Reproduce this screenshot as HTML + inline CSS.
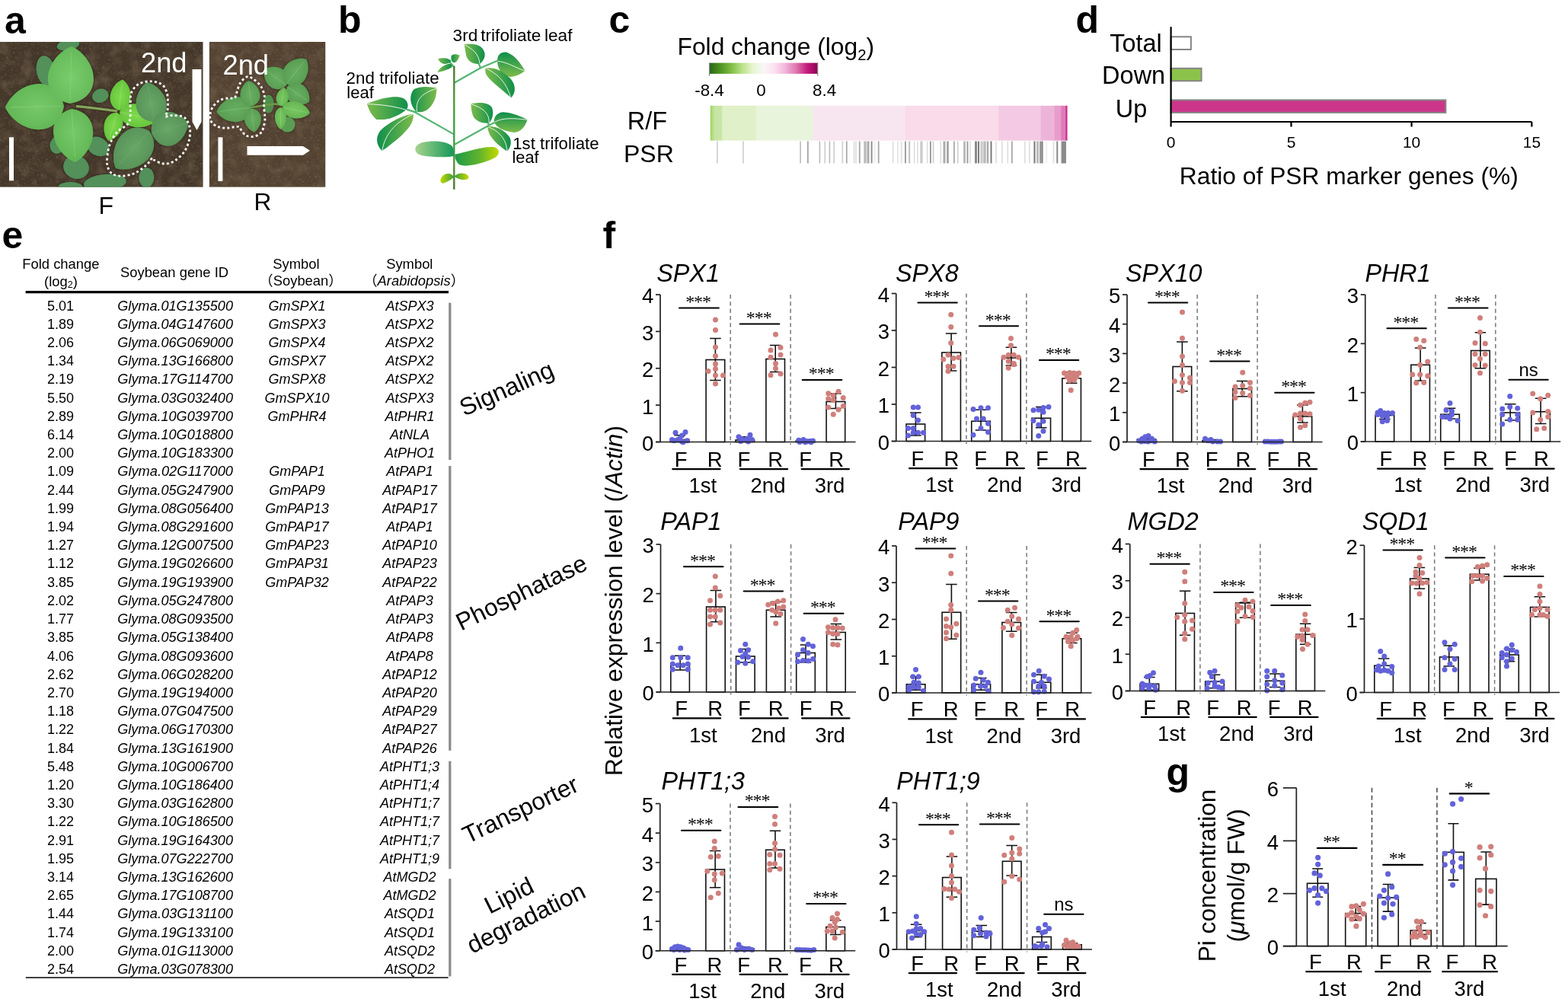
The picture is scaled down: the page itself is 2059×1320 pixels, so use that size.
<!DOCTYPE html>
<html><head><meta charset="utf-8"><style>
html,body{margin:0;padding:0;background:#fff;}
svg{display:block;}
text{font-family:"Liberation Sans", Arial, sans-serif; fill:#000;}
.cjk{font-family:"Liberation Sans","Noto Sans CJK JP",sans-serif;}
.st{font-family:"Liberation Serif", serif; font-size:24px; letter-spacing:-1.1px;}
</style></head><body>
<svg width="2059" height="1320" viewBox="0 0 2059 1320">
<rect width="2059" height="1320" fill="#fff"/>
<text x="6" y="43.5" font-size="50" font-weight="bold">a</text>
<text x="444" y="42.5" font-size="50" font-weight="bold">b</text>
<text x="799.5" y="43.2" font-size="50" font-weight="bold">c</text>
<text x="1412.5" y="43.2" font-size="50" font-weight="bold">d</text>
<text x="2.5" y="325.9" font-size="50" font-weight="bold">e</text>
<text x="791.5" y="326" font-size="50" font-weight="bold">f</text>
<text x="1531.5" y="1030.5" font-size="50" font-weight="bold">g</text>
<text x="889.5" y="71.7" font-size="31.4" textLength="258.5" lengthAdjust="spacingAndGlyphs">Fold change (log<tspan font-size="20" dy="7">2</tspan><tspan dy="-7">)</tspan></text>
<defs><linearGradient id="piyg" x1="0" x2="1" y1="0" y2="0">
<stop offset="0" stop-color="#276419"/><stop offset="0.1" stop-color="#4d9221"/><stop offset="0.2" stop-color="#7fbc41"/>
<stop offset="0.3" stop-color="#b8e186"/><stop offset="0.4" stop-color="#e6f5d0"/><stop offset="0.5" stop-color="#f7f7f7"/>
<stop offset="0.6" stop-color="#fde0ef"/><stop offset="0.7" stop-color="#f1b6da"/><stop offset="0.8" stop-color="#de77ae"/>
<stop offset="0.9" stop-color="#c51b7d"/><stop offset="1" stop-color="#8e0152"/></linearGradient>
<linearGradient id="hmstart" x1="0" x2="1" y1="0" y2="0"><stop offset="0" stop-color="#9ed35f"/><stop offset="0.35" stop-color="#c4e4a0"/><stop offset="1" stop-color="#c9e7a8"/></linearGradient>
</defs>
<rect x="931.2" y="82.6" width="142.8" height="14.3" fill="url(#piyg)"/>
<path d="M931.5,82.6V99.7M1073.7,82.6V99.7" stroke="#888" stroke-width="1.2"/>
<text x="931.5" y="125.6" font-size="22.4" text-anchor="middle">-8.4</text>
<text x="999.6" y="125.6" font-size="22.4" text-anchor="middle">0</text>
<text x="1082.6" y="125.6" font-size="22.4" text-anchor="middle">8.4</text>
<text x="823.8" y="170.4" font-size="32.4">R/F</text>
<text x="819" y="212.8" font-size="32">PSR</text>
<rect x="932.7" y="138.8" width="16.1" height="45.8" fill="url(#hmstart)"/>
<rect x="948.5" y="138.8" width="44.7" height="45.8" fill="#e0f0c8"/>
<rect x="992.9" y="138.8" width="74.9" height="45.8" fill="#e9f4dc"/>
<rect x="1067.5" y="138.8" width="121.3" height="45.8" fill="#f7e5ef"/>
<rect x="1188.5" y="138.8" width="123" height="45.8" fill="#f9dbea"/>
<rect x="1311.2" y="138.8" width="55.5" height="45.8" fill="#f4c9e4"/>
<rect x="1366.4" y="138.8" width="18.5" height="45.8" fill="#edb4da"/>
<rect x="1384.6" y="138.8" width="8.8" height="45.8" fill="#e89dcc"/>
<rect x="1393.1" y="138.8" width="6.4" height="45.8" fill="#e07bb9"/>
<rect x="1399.2" y="138.8" width="2.4" height="45.8" fill="#c8308c"/>
<filter id="psrblur" x="-0.01" y="-0.1" width="1.02" height="1.2"><feGaussianBlur stdDeviation="0.55,0.3"/></filter>
<g filter="url(#psrblur)">
<rect x="941.1" y="185.5" width="1.6" height="29" fill="#ccc"/>
<rect x="975.1" y="185.5" width="1.6" height="29" fill="#ccc"/>
<rect x="1050.3" y="185.5" width="1.6" height="29" fill="#bbb"/>
<rect x="1059.8" y="185.5" width="2" height="29" fill="#aaa"/>
<rect x="1075.6" y="185.5" width="1.6" height="29" fill="#bbb"/>
<rect x="1082.5" y="185.5" width="1.6" height="29" fill="#ccc"/>
<rect x="1088.6" y="185.5" width="1.6" height="29" fill="#bbb"/>
<rect x="1094.4" y="185.5" width="1.6" height="29" fill="#ccc"/>
<rect x="1105.6" y="185.5" width="1.6" height="29" fill="#ccc"/>
<rect x="1110.9" y="185.5" width="1.8" height="29" fill="#aaa"/>
<rect x="1120.7" y="185.5" width="1.6" height="29" fill="#ddd"/>
<rect x="1123.2" y="185.5" width="1.6" height="29" fill="#ddd"/>
<rect x="1127.85" y="185.5" width="1.9" height="29" fill="#aaa"/>
<rect x="1134.3" y="185.5" width="3.4" height="29" fill="#bbb"/>
<rect x="1138.55" y="185.5" width="2.9" height="29" fill="#aaa"/>
<rect x="1143.7" y="185.5" width="1.8" height="29" fill="#888"/>
<rect x="1148.1" y="185.5" width="1.6" height="29" fill="#eee"/>
<rect x="1152.8" y="185.5" width="1.8" height="29" fill="#aaa"/>
<rect x="1171.9" y="185.5" width="1.6" height="29" fill="#ddd"/>
<rect x="1178" y="185.5" width="1.6" height="29" fill="#e3e3e3"/>
<rect x="1182.9" y="185.5" width="1.6" height="29" fill="#ddd"/>
<rect x="1188" y="185.5" width="1.8" height="29" fill="#999"/>
<rect x="1193.3" y="185.5" width="1.8" height="29" fill="#bbb"/>
<rect x="1199.9" y="185.5" width="1.6" height="29" fill="#ddd"/>
<rect x="1204.1" y="185.5" width="1.6" height="29" fill="#ddd"/>
<rect x="1208.3" y="185.5" width="3.4" height="29" fill="#ccc"/>
<rect x="1216.9" y="185.5" width="1.6" height="29" fill="#ddd"/>
<rect x="1220.95" y="185.5" width="1.9" height="29" fill="#999"/>
<rect x="1224.8" y="185.5" width="1.6" height="29" fill="#ccc"/>
<rect x="1234.5" y="185.5" width="1.6" height="29" fill="#ddd"/>
<rect x="1238.55" y="185.5" width="2.9" height="29" fill="#aaa"/>
<rect x="1243.3" y="185.5" width="2.4" height="29" fill="#999"/>
<rect x="1252" y="185.5" width="1.8" height="29" fill="#aaa"/>
<rect x="1256.9" y="185.5" width="1.6" height="29" fill="#ccc"/>
<rect x="1265.05" y="185.5" width="2.9" height="29" fill="#bbb"/>
<rect x="1269.6" y="185.5" width="1.8" height="29" fill="#999"/>
<rect x="1273.2" y="185.5" width="1.6" height="29" fill="#ddd"/>
<rect x="1280.05" y="185.5" width="2.9" height="29" fill="#888"/>
<rect x="1284.05" y="185.5" width="1.9" height="29" fill="#777"/>
<rect x="1287.3" y="185.5" width="3.4" height="29" fill="#ccc"/>
<rect x="1291.3" y="185.5" width="3.4" height="29" fill="#bbb"/>
<rect x="1295.8" y="185.5" width="2.4" height="29" fill="#aaa"/>
<rect x="1300.55" y="185.5" width="1.9" height="29" fill="#777"/>
<rect x="1307.2" y="185.5" width="1.6" height="29" fill="#ddd"/>
<rect x="1315.2" y="185.5" width="1.6" height="29" fill="#ddd"/>
<rect x="1322.5" y="185.5" width="1.6" height="29" fill="#ddd"/>
<rect x="1327.85" y="185.5" width="1.9" height="29" fill="#aaa"/>
<rect x="1345" y="185.5" width="1.6" height="29" fill="#ddd"/>
<rect x="1351" y="185.5" width="1.6" height="29" fill="#ddd"/>
<rect x="1357.5" y="185.5" width="2" height="29" fill="#777"/>
<rect x="1361.05" y="185.5" width="2.9" height="29" fill="#bbb"/>
<rect x="1365.05" y="185.5" width="2.9" height="29" fill="#999"/>
<rect x="1367.9" y="185.5" width="1.8" height="29" fill="#888"/>
<rect x="1373.4" y="185.5" width="1.8" height="29" fill="#eee"/>
<rect x="1382.6" y="185.5" width="1.6" height="29" fill="#ddd"/>
<rect x="1387.3" y="185.5" width="2" height="29" fill="#888"/>
<rect x="1392.9" y="185.5" width="1.6" height="29" fill="#ccc"/>
<rect x="1394.05" y="185.5" width="5.9" height="29" fill="#8a8a8a"/>
</g>
<text x="1525.8" y="68.4" font-size="32.5" text-anchor="end">Total</text>
<text x="1530.2" y="110.4" font-size="32.5" text-anchor="end">Down</text>
<text x="1506.3" y="154.3" font-size="32.5" text-anchor="end">Up</text>
<rect x="1537.6" y="48.3" width="26.3" height="16.7" fill="#fff" stroke="#858585" stroke-width="2"/>
<rect x="1537.6" y="89.8" width="40" height="16.5" fill="#8bc34a" stroke="#858585" stroke-width="2"/>
<rect x="1537.6" y="131.4" width="360.8" height="16.5" fill="#cc368a" stroke="#858585" stroke-width="2"/>
<path d="M1537.6,35.2V160M1537.6,160H2011.4M1537.6,160V166.5M1695.5,160V166.5M1853.6,160V166.5M2011.4,160V166.5" stroke="#000" stroke-width="2.2" fill="none"/>
<text x="1537.6" y="194.3" font-size="21" text-anchor="middle">0</text>
<text x="1695.5" y="194.3" font-size="21" text-anchor="middle">5</text>
<text x="1853.6" y="194.3" font-size="21" text-anchor="middle">10</text>
<text x="2011.4" y="194.3" font-size="21" text-anchor="middle">15</text>
<text x="1548.8" y="241.5" font-size="32" textLength="445" lengthAdjust="spacingAndGlyphs">Ratio of PSR marker genes (%)</text>
<line x1="33.6" y1="383.7" x2="589" y2="383.7" stroke="#000" stroke-width="3.2"/>
<line x1="33.8" y1="1284" x2="588.6" y2="1284" stroke="#000" stroke-width="1.4"/>
<rect x="589.2" y="397.7" width="3.2" height="206.3" fill="#8a8a8a"/>
<rect x="589.2" y="612" width="3.2" height="373.8" fill="#8a8a8a"/>
<rect x="589.2" y="999.7" width="3.2" height="141.6" fill="#8a8a8a"/>
<rect x="589.2" y="1154.2" width="3.2" height="128.2" fill="#8a8a8a"/>
<text x="79.9" y="353.2" font-size="18.4" text-anchor="middle">Fold change</text>
<text x="79.9" y="375.9" font-size="18.4" text-anchor="middle">(log<tspan font-size="12.5" dy="2">2</tspan><tspan dy="-2">)</tspan></text>
<text x="229" y="363.6" font-size="18.4" text-anchor="middle">Soybean gene ID</text>
<text x="389" y="353" font-size="18.4" text-anchor="middle">Symbol</text>
<text x="395" y="374.7" font-size="18.4" text-anchor="middle" class="cjk">（Soybean）</text>
<text x="537.8" y="353" font-size="18.4" text-anchor="middle">Symbol</text>
<text x="543.6" y="374.7" font-size="18.4" text-anchor="middle" class="cjk">（<tspan font-style="italic" font-family="'Liberation Sans', Arial, sans-serif">Arabidopsis</tspan>）</text>
<g font-size="18">
<text x="79.6" y="407.6" text-anchor="middle">5.01</text>
<text x="154.2" y="407.6" font-style="italic" textLength="151.8" lengthAdjust="spacingAndGlyphs">Glyma.01G135500</text>
<text x="390" y="407.6" text-anchor="middle" font-style="italic">GmSPX1</text>
<text x="538" y="407.6" text-anchor="middle" font-style="italic">AtSPX3</text>
<text x="79.6" y="431.81" text-anchor="middle">1.89</text>
<text x="154.2" y="431.81" font-style="italic" textLength="151.8" lengthAdjust="spacingAndGlyphs">Glyma.04G147600</text>
<text x="390" y="431.81" text-anchor="middle" font-style="italic">GmSPX3</text>
<text x="538" y="431.81" text-anchor="middle" font-style="italic">AtSPX2</text>
<text x="79.6" y="456.01" text-anchor="middle">2.06</text>
<text x="154.2" y="456.01" font-style="italic" textLength="151.8" lengthAdjust="spacingAndGlyphs">Glyma.06G069000</text>
<text x="390" y="456.01" text-anchor="middle" font-style="italic">GmSPX4</text>
<text x="538" y="456.01" text-anchor="middle" font-style="italic">AtSPX2</text>
<text x="79.6" y="480.22" text-anchor="middle">1.34</text>
<text x="154.2" y="480.22" font-style="italic" textLength="151.8" lengthAdjust="spacingAndGlyphs">Glyma.13G166800</text>
<text x="390" y="480.22" text-anchor="middle" font-style="italic">GmSPX7</text>
<text x="538" y="480.22" text-anchor="middle" font-style="italic">AtSPX2</text>
<text x="79.6" y="504.42" text-anchor="middle">2.19</text>
<text x="154.2" y="504.42" font-style="italic" textLength="151.8" lengthAdjust="spacingAndGlyphs">Glyma.17G114700</text>
<text x="390" y="504.42" text-anchor="middle" font-style="italic">GmSPX8</text>
<text x="538" y="504.42" text-anchor="middle" font-style="italic">AtSPX2</text>
<text x="79.6" y="528.62" text-anchor="middle">5.50</text>
<text x="154.2" y="528.62" font-style="italic" textLength="151.8" lengthAdjust="spacingAndGlyphs">Glyma.03G032400</text>
<text x="390" y="528.62" text-anchor="middle" font-style="italic">GmSPX10</text>
<text x="538" y="528.62" text-anchor="middle" font-style="italic">AtSPX3</text>
<text x="79.6" y="552.83" text-anchor="middle">2.89</text>
<text x="154.2" y="552.83" font-style="italic" textLength="151.8" lengthAdjust="spacingAndGlyphs">Glyma.10G039700</text>
<text x="390" y="552.83" text-anchor="middle" font-style="italic">GmPHR4</text>
<text x="538" y="552.83" text-anchor="middle" font-style="italic">AtPHR1</text>
<text x="79.6" y="577.04" text-anchor="middle">6.14</text>
<text x="154.2" y="577.04" font-style="italic" textLength="151.8" lengthAdjust="spacingAndGlyphs">Glyma.10G018800</text>
<text x="538" y="577.04" text-anchor="middle" font-style="italic">AtNLA</text>
<text x="79.6" y="601.24" text-anchor="middle">2.00</text>
<text x="154.2" y="601.24" font-style="italic" textLength="151.8" lengthAdjust="spacingAndGlyphs">Glyma.10G183300</text>
<text x="538" y="601.24" text-anchor="middle" font-style="italic">AtPHO1</text>
<text x="79.6" y="625.44" text-anchor="middle">1.09</text>
<text x="154.2" y="625.44" font-style="italic" textLength="151.8" lengthAdjust="spacingAndGlyphs">Glyma.02G117000</text>
<text x="390" y="625.44" text-anchor="middle" font-style="italic">GmPAP1</text>
<text x="538" y="625.44" text-anchor="middle" font-style="italic">AtPAP1</text>
<text x="79.6" y="649.65" text-anchor="middle">2.44</text>
<text x="154.2" y="649.65" font-style="italic" textLength="151.8" lengthAdjust="spacingAndGlyphs">Glyma.05G247900</text>
<text x="390" y="649.65" text-anchor="middle" font-style="italic">GmPAP9</text>
<text x="538" y="649.65" text-anchor="middle" font-style="italic">AtPAP17</text>
<text x="79.6" y="673.86" text-anchor="middle">1.99</text>
<text x="154.2" y="673.86" font-style="italic" textLength="151.8" lengthAdjust="spacingAndGlyphs">Glyma.08G056400</text>
<text x="390" y="673.86" text-anchor="middle" font-style="italic">GmPAP13</text>
<text x="538" y="673.86" text-anchor="middle" font-style="italic">AtPAP17</text>
<text x="79.6" y="698.06" text-anchor="middle">1.94</text>
<text x="154.2" y="698.06" font-style="italic" textLength="151.8" lengthAdjust="spacingAndGlyphs">Glyma.08G291600</text>
<text x="390" y="698.06" text-anchor="middle" font-style="italic">GmPAP17</text>
<text x="538" y="698.06" text-anchor="middle" font-style="italic">AtPAP1</text>
<text x="79.6" y="722.26" text-anchor="middle">1.27</text>
<text x="154.2" y="722.26" font-style="italic" textLength="151.8" lengthAdjust="spacingAndGlyphs">Glyma.12G007500</text>
<text x="390" y="722.26" text-anchor="middle" font-style="italic">GmPAP23</text>
<text x="538" y="722.26" text-anchor="middle" font-style="italic">AtPAP10</text>
<text x="79.6" y="746.47" text-anchor="middle">1.12</text>
<text x="154.2" y="746.47" font-style="italic" textLength="151.8" lengthAdjust="spacingAndGlyphs">Glyma.19G026600</text>
<text x="390" y="746.47" text-anchor="middle" font-style="italic">GmPAP31</text>
<text x="538" y="746.47" text-anchor="middle" font-style="italic">AtPAP23</text>
<text x="79.6" y="770.67" text-anchor="middle">3.85</text>
<text x="154.2" y="770.67" font-style="italic" textLength="151.8" lengthAdjust="spacingAndGlyphs">Glyma.19G193900</text>
<text x="390" y="770.67" text-anchor="middle" font-style="italic">GmPAP32</text>
<text x="538" y="770.67" text-anchor="middle" font-style="italic">AtPAP22</text>
<text x="79.6" y="794.88" text-anchor="middle">2.02</text>
<text x="154.2" y="794.88" font-style="italic" textLength="151.8" lengthAdjust="spacingAndGlyphs">Glyma.05G247800</text>
<text x="538" y="794.88" text-anchor="middle" font-style="italic">AtPAP3</text>
<text x="79.6" y="819.09" text-anchor="middle">1.77</text>
<text x="154.2" y="819.09" font-style="italic" textLength="151.8" lengthAdjust="spacingAndGlyphs">Glyma.08G093500</text>
<text x="538" y="819.09" text-anchor="middle" font-style="italic">AtPAP3</text>
<text x="79.6" y="843.29" text-anchor="middle">3.85</text>
<text x="154.2" y="843.29" font-style="italic" textLength="151.8" lengthAdjust="spacingAndGlyphs">Glyma.05G138400</text>
<text x="538" y="843.29" text-anchor="middle" font-style="italic">AtPAP8</text>
<text x="79.6" y="867.5" text-anchor="middle">4.06</text>
<text x="154.2" y="867.5" font-style="italic" textLength="151.8" lengthAdjust="spacingAndGlyphs">Glyma.08G093600</text>
<text x="538" y="867.5" text-anchor="middle" font-style="italic">AtPAP8</text>
<text x="79.6" y="891.7" text-anchor="middle">2.62</text>
<text x="154.2" y="891.7" font-style="italic" textLength="151.8" lengthAdjust="spacingAndGlyphs">Glyma.06G028200</text>
<text x="538" y="891.7" text-anchor="middle" font-style="italic">AtPAP12</text>
<text x="79.6" y="915.9" text-anchor="middle">2.70</text>
<text x="154.2" y="915.9" font-style="italic" textLength="151.8" lengthAdjust="spacingAndGlyphs">Glyma.19G194000</text>
<text x="538" y="915.9" text-anchor="middle" font-style="italic">AtPAP20</text>
<text x="79.6" y="940.11" text-anchor="middle">1.18</text>
<text x="154.2" y="940.11" font-style="italic" textLength="151.8" lengthAdjust="spacingAndGlyphs">Glyma.07G047500</text>
<text x="538" y="940.11" text-anchor="middle" font-style="italic">AtPAP29</text>
<text x="79.6" y="964.31" text-anchor="middle">1.22</text>
<text x="154.2" y="964.31" font-style="italic" textLength="151.8" lengthAdjust="spacingAndGlyphs">Glyma.06G170300</text>
<text x="538" y="964.31" text-anchor="middle" font-style="italic">AtPAP27</text>
<text x="79.6" y="988.52" text-anchor="middle">1.84</text>
<text x="154.2" y="988.52" font-style="italic" textLength="151.8" lengthAdjust="spacingAndGlyphs">Glyma.13G161900</text>
<text x="538" y="988.52" text-anchor="middle" font-style="italic">AtPAP26</text>
<text x="79.6" y="1012.73" text-anchor="middle">5.48</text>
<text x="154.2" y="1012.73" font-style="italic" textLength="151.8" lengthAdjust="spacingAndGlyphs">Glyma.10G006700</text>
<text x="538" y="1012.73" text-anchor="middle" font-style="italic">AtPHT1;3</text>
<text x="79.6" y="1036.93" text-anchor="middle">1.20</text>
<text x="154.2" y="1036.93" font-style="italic" textLength="151.8" lengthAdjust="spacingAndGlyphs">Glyma.10G186400</text>
<text x="538" y="1036.93" text-anchor="middle" font-style="italic">AtPHT1;4</text>
<text x="79.6" y="1061.13" text-anchor="middle">3.30</text>
<text x="154.2" y="1061.13" font-style="italic" textLength="151.8" lengthAdjust="spacingAndGlyphs">Glyma.03G162800</text>
<text x="538" y="1061.13" text-anchor="middle" font-style="italic">AtPHT1;7</text>
<text x="79.6" y="1085.34" text-anchor="middle">1.22</text>
<text x="154.2" y="1085.34" font-style="italic" textLength="151.8" lengthAdjust="spacingAndGlyphs">Glyma.10G186500</text>
<text x="538" y="1085.34" text-anchor="middle" font-style="italic">AtPHT1;7</text>
<text x="79.6" y="1109.55" text-anchor="middle">2.91</text>
<text x="154.2" y="1109.55" font-style="italic" textLength="151.8" lengthAdjust="spacingAndGlyphs">Glyma.19G164300</text>
<text x="538" y="1109.55" text-anchor="middle" font-style="italic">AtPHT1;7</text>
<text x="79.6" y="1133.75" text-anchor="middle">1.95</text>
<text x="154.2" y="1133.75" font-style="italic" textLength="151.8" lengthAdjust="spacingAndGlyphs">Glyma.07G222700</text>
<text x="538" y="1133.75" text-anchor="middle" font-style="italic">AtPHT1;9</text>
<text x="79.6" y="1157.95" text-anchor="middle">3.14</text>
<text x="154.2" y="1157.95" font-style="italic" textLength="151.8" lengthAdjust="spacingAndGlyphs">Glyma.13G162600</text>
<text x="538" y="1157.95" text-anchor="middle" font-style="italic">AtMGD2</text>
<text x="79.6" y="1182.16" text-anchor="middle">2.65</text>
<text x="154.2" y="1182.16" font-style="italic" textLength="151.8" lengthAdjust="spacingAndGlyphs">Glyma.17G108700</text>
<text x="538" y="1182.16" text-anchor="middle" font-style="italic">AtMGD2</text>
<text x="79.6" y="1206.37" text-anchor="middle">1.44</text>
<text x="154.2" y="1206.37" font-style="italic" textLength="151.8" lengthAdjust="spacingAndGlyphs">Glyma.03G131100</text>
<text x="538" y="1206.37" text-anchor="middle" font-style="italic">AtSQD1</text>
<text x="79.6" y="1230.57" text-anchor="middle">1.74</text>
<text x="154.2" y="1230.57" font-style="italic" textLength="151.8" lengthAdjust="spacingAndGlyphs">Glyma.19G133100</text>
<text x="538" y="1230.57" text-anchor="middle" font-style="italic">AtSQD1</text>
<text x="79.6" y="1254.78" text-anchor="middle">2.00</text>
<text x="154.2" y="1254.78" font-style="italic" textLength="151.8" lengthAdjust="spacingAndGlyphs">Glyma.01G113000</text>
<text x="538" y="1254.78" text-anchor="middle" font-style="italic">AtSQD2</text>
<text x="79.6" y="1278.98" text-anchor="middle">2.54</text>
<text x="154.2" y="1278.98" font-style="italic" textLength="151.8" lengthAdjust="spacingAndGlyphs">Glyma.03G078300</text>
<text x="538" y="1278.98" text-anchor="middle" font-style="italic">AtSQD2</text>
</g>
<text transform="translate(609.5,547) rotate(-24)" font-size="32">Signaling</text>
<text transform="translate(605.5,829) rotate(-26)" font-size="32">Phosphatase</text>
<text transform="translate(614,1108.5) rotate(-25.5)" font-size="32">Transporter</text>
<text transform="translate(643,1201) rotate(-26.5)" font-size="32">Lipid</text>
<text transform="translate(620,1253) rotate(-26.5)" font-size="32">degradation</text>
<text transform="translate(817,789) rotate(-90)" font-size="31.5" text-anchor="middle" textLength="460" lengthAdjust="spacingAndGlyphs">Relative expression level (/<tspan font-style="italic">Actin</tspan>)</text>
<line x1="959.2" y1="387" x2="959.2" y2="584" stroke="#777" stroke-width="1.5" stroke-dasharray="5.3,4"/>
<line x1="1038.1" y1="387" x2="1038.1" y2="584" stroke="#777" stroke-width="1.5" stroke-dasharray="5.3,4"/>
<rect x="880.3" y="577.5" width="24.6" height="3" fill="#fff" stroke="#111" stroke-width="1.6"/>
<rect x="927.1" y="472.5" width="24.6" height="108" fill="#fff" stroke="#111" stroke-width="1.6"/>
<rect x="966" y="578" width="24.6" height="2.5" fill="#fff" stroke="#111" stroke-width="1.6"/>
<rect x="1005.9" y="471.5" width="24.6" height="109" fill="#fff" stroke="#111" stroke-width="1.6"/>
<rect x="1045.2" y="579" width="24.6" height="1.5" fill="#fff" stroke="#111" stroke-width="1.6"/>
<rect x="1085.1" y="527.5" width="24.6" height="53" fill="#fff" stroke="#111" stroke-width="1.6"/>
<path d="M892.6,571.75V580M885.3,571.75H899.9M885.3,580H899.9" stroke="#111" stroke-width="1.6" fill="none"/>
<path d="M939.4,444.5V499.5M932.1,444.5H946.7M932.1,499.5H946.7" stroke="#111" stroke-width="1.6" fill="none"/>
<path d="M978.3,573.75V580M971,573.75H985.6M971,580H985.6" stroke="#111" stroke-width="1.6" fill="none"/>
<path d="M1018.2,453.5V488.5M1010.9,453.5H1025.5M1010.9,488.5H1025.5" stroke="#111" stroke-width="1.6" fill="none"/>
<path d="M1057.5,577.5V580M1050.2,577.5H1064.8M1050.2,580H1064.8" stroke="#111" stroke-width="1.6" fill="none"/>
<path d="M1097.4,517V536.5M1090.1,517H1104.7M1090.1,536.5H1104.7" stroke="#111" stroke-width="1.6" fill="none"/>
<circle cx="887" cy="568.25" r="3.5" fill="#6262da"/>
<circle cx="900" cy="567.5" r="3.5" fill="#6262da"/>
<circle cx="895.5" cy="572" r="3.5" fill="#6262da"/>
<circle cx="882.5" cy="577.5" r="3.5" fill="#6262da"/>
<circle cx="890" cy="577.5" r="3.5" fill="#6262da"/>
<circle cx="895.5" cy="580" r="3.5" fill="#6262da"/>
<circle cx="902.5" cy="578.75" r="3.5" fill="#6262da"/>
<circle cx="897" cy="580.75" r="3.5" fill="#6262da"/>
<circle cx="885" cy="578.75" r="3.5" fill="#6262da"/>
<circle cx="892.5" cy="576.25" r="3.5" fill="#6262da"/>
<circle cx="939.5" cy="420" r="3.5" fill="#d07f7b"/>
<circle cx="939.5" cy="433.5" r="3.5" fill="#d07f7b"/>
<circle cx="939.5" cy="456" r="3.5" fill="#d07f7b"/>
<circle cx="939.5" cy="467.5" r="3.5" fill="#d07f7b"/>
<circle cx="939.5" cy="478" r="3.5" fill="#d07f7b"/>
<circle cx="939.5" cy="484.5" r="3.5" fill="#d07f7b"/>
<circle cx="930" cy="487.5" r="3.5" fill="#d07f7b"/>
<circle cx="939.5" cy="493" r="3.5" fill="#d07f7b"/>
<circle cx="949.5" cy="493" r="3.5" fill="#d07f7b"/>
<circle cx="939.5" cy="504" r="3.5" fill="#d07f7b"/>
<circle cx="970" cy="573.75" r="3.5" fill="#6262da"/>
<circle cx="985" cy="571.25" r="3.5" fill="#6262da"/>
<circle cx="981.25" cy="576.25" r="3.5" fill="#6262da"/>
<circle cx="972.5" cy="579.5" r="3.5" fill="#6262da"/>
<circle cx="982.5" cy="580" r="3.5" fill="#6262da"/>
<circle cx="977.5" cy="577.5" r="3.5" fill="#6262da"/>
<circle cx="987.5" cy="577.5" r="3.5" fill="#6262da"/>
<circle cx="973.75" cy="576.25" r="3.5" fill="#6262da"/>
<circle cx="1018.5" cy="439.25" r="3.5" fill="#d07f7b"/>
<circle cx="1012" cy="460" r="3.5" fill="#d07f7b"/>
<circle cx="1025" cy="456.5" r="3.5" fill="#d07f7b"/>
<circle cx="1025" cy="466" r="3.5" fill="#d07f7b"/>
<circle cx="1012" cy="469.25" r="3.5" fill="#d07f7b"/>
<circle cx="1018.5" cy="477.5" r="3.5" fill="#d07f7b"/>
<circle cx="1018.5" cy="484" r="3.5" fill="#d07f7b"/>
<circle cx="1012" cy="492.75" r="3.5" fill="#d07f7b"/>
<circle cx="1025" cy="491" r="3.5" fill="#d07f7b"/>
<circle cx="1048.75" cy="578.25" r="3.5" fill="#6262da"/>
<circle cx="1052.5" cy="579" r="3.5" fill="#6262da"/>
<circle cx="1056.25" cy="579.5" r="3.5" fill="#6262da"/>
<circle cx="1060" cy="579.75" r="3.5" fill="#6262da"/>
<circle cx="1063.75" cy="579.5" r="3.5" fill="#6262da"/>
<circle cx="1067.5" cy="579" r="3.5" fill="#6262da"/>
<circle cx="1050" cy="580.5" r="3.5" fill="#6262da"/>
<circle cx="1057.5" cy="580.75" r="3.5" fill="#6262da"/>
<circle cx="1065" cy="580.75" r="3.5" fill="#6262da"/>
<circle cx="1055" cy="577.5" r="3.5" fill="#6262da"/>
<circle cx="1087.75" cy="516.75" r="3.5" fill="#d07f7b"/>
<circle cx="1094.25" cy="519.5" r="3.5" fill="#d07f7b"/>
<circle cx="1101" cy="514.25" r="3.5" fill="#d07f7b"/>
<circle cx="1107.25" cy="522.5" r="3.5" fill="#d07f7b"/>
<circle cx="1087.75" cy="523.75" r="3.5" fill="#d07f7b"/>
<circle cx="1094.25" cy="525.5" r="3.5" fill="#d07f7b"/>
<circle cx="1087.75" cy="535" r="3.5" fill="#d07f7b"/>
<circle cx="1107.25" cy="533.25" r="3.5" fill="#d07f7b"/>
<circle cx="1101" cy="538" r="3.5" fill="#d07f7b"/>
<circle cx="1094.25" cy="544.25" r="3.5" fill="#d07f7b"/>
<path d="M867,387V580.5M861,580.5H1123.5" stroke="#222" stroke-width="1.7" fill="none"/>
<line x1="861" y1="580.5" x2="867" y2="580.5" stroke="#222" stroke-width="1.7"/>
<text x="858.4" y="591.9" text-anchor="end" font-size="27.5">0</text>
<line x1="861" y1="532.12" x2="867" y2="532.12" stroke="#222" stroke-width="1.7"/>
<text x="858.4" y="543.52" text-anchor="end" font-size="27.5">1</text>
<line x1="861" y1="483.75" x2="867" y2="483.75" stroke="#222" stroke-width="1.7"/>
<text x="858.4" y="495.15" text-anchor="end" font-size="27.5">2</text>
<line x1="861" y1="435.38" x2="867" y2="435.38" stroke="#222" stroke-width="1.7"/>
<text x="858.4" y="446.77" text-anchor="end" font-size="27.5">3</text>
<line x1="861" y1="387" x2="867" y2="387" stroke="#222" stroke-width="1.7"/>
<text x="858.4" y="398.4" text-anchor="end" font-size="27.5">4</text>
<line x1="892" y1="404.5" x2="943.75" y2="404.5" stroke="#000" stroke-width="2.2" stroke-linecap="round"/>
<text x="916.58" y="403.9" text-anchor="middle" class="st">***</text>
<line x1="971.75" y1="425.5" x2="1023.25" y2="425.5" stroke="#000" stroke-width="2.2" stroke-linecap="round"/>
<text x="996.2" y="424.9" text-anchor="middle" class="st">***</text>
<line x1="1053.75" y1="499" x2="1105.25" y2="499" stroke="#000" stroke-width="2.2" stroke-linecap="round"/>
<text x="1078.2" y="498.4" text-anchor="middle" class="st">***</text>
<text x="894.2" y="612.8" text-anchor="middle" font-size="27.5">F</text>
<text x="938.7" y="612.8" text-anchor="middle" font-size="27.5">R</text>
<text x="977" y="612.8" text-anchor="middle" font-size="27.5">F</text>
<text x="1018.2" y="612.8" text-anchor="middle" font-size="27.5">R</text>
<text x="1057.7" y="612.8" text-anchor="middle" font-size="27.5">F</text>
<text x="1098.2" y="612.8" text-anchor="middle" font-size="27.5">R</text>
<line x1="883.2" y1="616.1" x2="945.6" y2="616.1" stroke="#000" stroke-width="2.1" stroke-linecap="round"/>
<line x1="971.8" y1="616.1" x2="1034.2" y2="616.1" stroke="#000" stroke-width="2.1" stroke-linecap="round"/>
<line x1="1052.6" y1="616.1" x2="1115" y2="616.1" stroke="#000" stroke-width="2.1" stroke-linecap="round"/>
<text x="922.9" y="646.8" text-anchor="middle" font-size="27.5">1st</text>
<text x="1008.5" y="646.8" text-anchor="middle" font-size="27.5">2nd</text>
<text x="1089.5" y="646.8" text-anchor="middle" font-size="27.5">3rd</text>
<text x="862.25" y="370" font-size="32.3" font-style="italic">SPX1</text>
<line x1="1268.95" y1="385.5" x2="1268.95" y2="583" stroke="#777" stroke-width="1.5" stroke-dasharray="5.3,4"/>
<line x1="1347.85" y1="385.5" x2="1347.85" y2="583" stroke="#777" stroke-width="1.5" stroke-dasharray="5.3,4"/>
<rect x="1190.05" y="557" width="24.6" height="22.5" fill="#fff" stroke="#111" stroke-width="1.6"/>
<rect x="1236.85" y="463" width="24.6" height="116.5" fill="#fff" stroke="#111" stroke-width="1.6"/>
<rect x="1275.75" y="553.25" width="24.6" height="26.25" fill="#fff" stroke="#111" stroke-width="1.6"/>
<rect x="1315.65" y="470" width="24.6" height="109.5" fill="#fff" stroke="#111" stroke-width="1.6"/>
<rect x="1354.95" y="549.25" width="24.6" height="30.25" fill="#fff" stroke="#111" stroke-width="1.6"/>
<rect x="1394.85" y="497" width="24.6" height="82.5" fill="#fff" stroke="#111" stroke-width="1.6"/>
<path d="M1202.35,542V572M1195.05,542H1209.65M1195.05,572H1209.65" stroke="#111" stroke-width="1.6" fill="none"/>
<path d="M1249.15,438V487M1241.85,438H1256.45M1241.85,487H1256.45" stroke="#111" stroke-width="1.6" fill="none"/>
<path d="M1288.05,538.25V565M1280.75,538.25H1295.35M1280.75,565H1295.35" stroke="#111" stroke-width="1.6" fill="none"/>
<path d="M1327.95,456.25V480M1320.65,456.25H1335.25M1320.65,480H1335.25" stroke="#111" stroke-width="1.6" fill="none"/>
<path d="M1367.25,534.5V561.75M1359.95,534.5H1374.55M1359.95,561.75H1374.55" stroke="#111" stroke-width="1.6" fill="none"/>
<path d="M1407.15,488.75V503.25M1399.85,488.75H1414.45M1399.85,503.25H1414.45" stroke="#111" stroke-width="1.6" fill="none"/>
<circle cx="1199.25" cy="535" r="3.5" fill="#6262da"/>
<circle cx="1205.5" cy="535" r="3.5" fill="#6262da"/>
<circle cx="1199.25" cy="545.5" r="3.5" fill="#6262da"/>
<circle cx="1205.5" cy="552" r="3.5" fill="#6262da"/>
<circle cx="1192.5" cy="562.5" r="3.5" fill="#6262da"/>
<circle cx="1199.25" cy="562.5" r="3.5" fill="#6262da"/>
<circle cx="1192.5" cy="572" r="3.5" fill="#6262da"/>
<circle cx="1199.25" cy="568.25" r="3.5" fill="#6262da"/>
<circle cx="1205.5" cy="568.25" r="3.5" fill="#6262da"/>
<circle cx="1212.5" cy="568.25" r="3.5" fill="#6262da"/>
<circle cx="1248.75" cy="413.25" r="3.5" fill="#d07f7b"/>
<circle cx="1248.75" cy="429.5" r="3.5" fill="#d07f7b"/>
<circle cx="1248.75" cy="450.5" r="3.5" fill="#d07f7b"/>
<circle cx="1238.75" cy="472" r="3.5" fill="#d07f7b"/>
<circle cx="1245" cy="466.25" r="3.5" fill="#d07f7b"/>
<circle cx="1252" cy="470.5" r="3.5" fill="#d07f7b"/>
<circle cx="1258.75" cy="469.5" r="3.5" fill="#d07f7b"/>
<circle cx="1245" cy="481.25" r="3.5" fill="#d07f7b"/>
<circle cx="1252" cy="481.25" r="3.5" fill="#d07f7b"/>
<circle cx="1245" cy="487.5" r="3.5" fill="#d07f7b"/>
<circle cx="1278" cy="537.5" r="3.5" fill="#6262da"/>
<circle cx="1288" cy="535.75" r="3.5" fill="#6262da"/>
<circle cx="1297.5" cy="535.75" r="3.5" fill="#6262da"/>
<circle cx="1282.5" cy="550" r="3.5" fill="#6262da"/>
<circle cx="1291.25" cy="550" r="3.5" fill="#6262da"/>
<circle cx="1297.5" cy="556.25" r="3.5" fill="#6262da"/>
<circle cx="1288" cy="562.5" r="3.5" fill="#6262da"/>
<circle cx="1278" cy="571.25" r="3.5" fill="#6262da"/>
<circle cx="1297.5" cy="567.5" r="3.5" fill="#6262da"/>
<circle cx="1327.5" cy="444.5" r="3.5" fill="#d07f7b"/>
<circle cx="1327.5" cy="453.75" r="3.5" fill="#d07f7b"/>
<circle cx="1318" cy="469.25" r="3.5" fill="#d07f7b"/>
<circle cx="1324.25" cy="466.25" r="3.5" fill="#d07f7b"/>
<circle cx="1331.25" cy="466.25" r="3.5" fill="#d07f7b"/>
<circle cx="1337.5" cy="469.25" r="3.5" fill="#d07f7b"/>
<circle cx="1324.25" cy="474.5" r="3.5" fill="#d07f7b"/>
<circle cx="1331.25" cy="478.75" r="3.5" fill="#d07f7b"/>
<circle cx="1324.25" cy="483.25" r="3.5" fill="#d07f7b"/>
<circle cx="1331.25" cy="477.5" r="3.5" fill="#d07f7b"/>
<circle cx="1357" cy="538.75" r="3.5" fill="#6262da"/>
<circle cx="1363.75" cy="538.25" r="3.5" fill="#6262da"/>
<circle cx="1370" cy="535.5" r="3.5" fill="#6262da"/>
<circle cx="1377" cy="534.5" r="3.5" fill="#6262da"/>
<circle cx="1370" cy="541.25" r="3.5" fill="#6262da"/>
<circle cx="1357" cy="552.5" r="3.5" fill="#6262da"/>
<circle cx="1370" cy="553.25" r="3.5" fill="#6262da"/>
<circle cx="1363.75" cy="558" r="3.5" fill="#6262da"/>
<circle cx="1370" cy="566.25" r="3.5" fill="#6262da"/>
<circle cx="1363.75" cy="572.5" r="3.5" fill="#6262da"/>
<circle cx="1397.5" cy="490" r="3.5" fill="#d07f7b"/>
<circle cx="1404.5" cy="489.5" r="3.5" fill="#d07f7b"/>
<circle cx="1410" cy="490" r="3.5" fill="#d07f7b"/>
<circle cx="1416.75" cy="490" r="3.5" fill="#d07f7b"/>
<circle cx="1401.25" cy="495" r="3.5" fill="#d07f7b"/>
<circle cx="1407.5" cy="495" r="3.5" fill="#d07f7b"/>
<circle cx="1413.75" cy="495" r="3.5" fill="#d07f7b"/>
<circle cx="1404.5" cy="500" r="3.5" fill="#d07f7b"/>
<circle cx="1410.5" cy="499.5" r="3.5" fill="#d07f7b"/>
<circle cx="1406.25" cy="512.5" r="3.5" fill="#d07f7b"/>
<path d="M1176.75,385.5V579.5M1170.75,579.5H1433.25" stroke="#222" stroke-width="1.7" fill="none"/>
<line x1="1170.75" y1="579.5" x2="1176.75" y2="579.5" stroke="#222" stroke-width="1.7"/>
<text x="1168.15" y="590.9" text-anchor="end" font-size="27.5">0</text>
<line x1="1170.75" y1="531" x2="1176.75" y2="531" stroke="#222" stroke-width="1.7"/>
<text x="1168.15" y="542.4" text-anchor="end" font-size="27.5">1</text>
<line x1="1170.75" y1="482.5" x2="1176.75" y2="482.5" stroke="#222" stroke-width="1.7"/>
<text x="1168.15" y="493.9" text-anchor="end" font-size="27.5">2</text>
<line x1="1170.75" y1="434" x2="1176.75" y2="434" stroke="#222" stroke-width="1.7"/>
<text x="1168.15" y="445.4" text-anchor="end" font-size="27.5">3</text>
<line x1="1170.75" y1="385.5" x2="1176.75" y2="385.5" stroke="#222" stroke-width="1.7"/>
<text x="1168.15" y="396.9" text-anchor="end" font-size="27.5">4</text>
<line x1="1205.5" y1="397.5" x2="1256.75" y2="397.5" stroke="#000" stroke-width="2.2" stroke-linecap="round"/>
<text x="1229.83" y="396.9" text-anchor="middle" class="st">***</text>
<line x1="1286" y1="428.25" x2="1337" y2="428.25" stroke="#000" stroke-width="2.2" stroke-linecap="round"/>
<text x="1310.2" y="427.65" text-anchor="middle" class="st">***</text>
<line x1="1365" y1="473" x2="1416.25" y2="473" stroke="#000" stroke-width="2.2" stroke-linecap="round"/>
<text x="1389.33" y="472.4" text-anchor="middle" class="st">***</text>
<text x="1204.95" y="611.8" text-anchor="middle" font-size="27.5">F</text>
<text x="1249.45" y="611.8" text-anchor="middle" font-size="27.5">R</text>
<text x="1287.75" y="611.8" text-anchor="middle" font-size="27.5">F</text>
<text x="1328.95" y="611.8" text-anchor="middle" font-size="27.5">R</text>
<text x="1368.45" y="611.8" text-anchor="middle" font-size="27.5">F</text>
<text x="1408.95" y="611.8" text-anchor="middle" font-size="27.5">R</text>
<line x1="1193.95" y1="615.1" x2="1256.35" y2="615.1" stroke="#000" stroke-width="2.1" stroke-linecap="round"/>
<line x1="1282.55" y1="615.1" x2="1344.95" y2="615.1" stroke="#000" stroke-width="2.1" stroke-linecap="round"/>
<line x1="1363.35" y1="615.1" x2="1425.75" y2="615.1" stroke="#000" stroke-width="2.1" stroke-linecap="round"/>
<text x="1233.65" y="645.8" text-anchor="middle" font-size="27.5">1st</text>
<text x="1319.25" y="645.8" text-anchor="middle" font-size="27.5">2nd</text>
<text x="1400.25" y="645.8" text-anchor="middle" font-size="27.5">3rd</text>
<text x="1176" y="370" font-size="32.3" font-style="italic">SPX8</text>
<line x1="1572.2" y1="387" x2="1572.2" y2="584" stroke="#777" stroke-width="1.5" stroke-dasharray="5.3,4"/>
<line x1="1651.1" y1="387" x2="1651.1" y2="584" stroke="#777" stroke-width="1.5" stroke-dasharray="5.3,4"/>
<rect x="1493.3" y="577" width="24.6" height="3.5" fill="#fff" stroke="#111" stroke-width="1.6"/>
<rect x="1540.1" y="481.5" width="24.6" height="99" fill="#fff" stroke="#111" stroke-width="1.6"/>
<rect x="1579" y="578.75" width="24.6" height="1.75" fill="#fff" stroke="#111" stroke-width="1.6"/>
<rect x="1618.9" y="510.5" width="24.6" height="70" fill="#fff" stroke="#111" stroke-width="1.6"/>
<rect x="1698.1" y="547" width="24.6" height="33.5" fill="#fff" stroke="#111" stroke-width="1.6"/>
<path d="M1505.6,575.5V580M1498.3,575.5H1512.9M1498.3,580H1512.9" stroke="#111" stroke-width="1.6" fill="none"/>
<path d="M1552.4,449V513.75M1545.1,449H1559.7M1545.1,513.75H1559.7" stroke="#111" stroke-width="1.6" fill="none"/>
<path d="M1591.3,577.5V580M1584,577.5H1598.6M1584,580H1598.6" stroke="#111" stroke-width="1.6" fill="none"/>
<path d="M1631.2,500.5V520.75M1623.9,500.5H1638.5M1623.9,520.75H1638.5" stroke="#111" stroke-width="1.6" fill="none"/>
<path d="M1710.4,532V555M1703.1,532H1717.7M1703.1,555H1717.7" stroke="#111" stroke-width="1.6" fill="none"/>
<circle cx="1496.25" cy="578.75" r="3.5" fill="#6262da"/>
<circle cx="1500" cy="576.25" r="3.5" fill="#6262da"/>
<circle cx="1503.75" cy="573.75" r="3.5" fill="#6262da"/>
<circle cx="1508" cy="572.5" r="3.5" fill="#6262da"/>
<circle cx="1512.5" cy="576.25" r="3.5" fill="#6262da"/>
<circle cx="1516.25" cy="580" r="3.5" fill="#6262da"/>
<circle cx="1507.5" cy="580" r="3.5" fill="#6262da"/>
<circle cx="1498.75" cy="580" r="3.5" fill="#6262da"/>
<circle cx="1511.25" cy="578.75" r="3.5" fill="#6262da"/>
<circle cx="1503.75" cy="579.5" r="3.5" fill="#6262da"/>
<circle cx="1552.5" cy="410" r="3.5" fill="#d07f7b"/>
<circle cx="1552.5" cy="444.25" r="3.5" fill="#d07f7b"/>
<circle cx="1552.5" cy="468" r="3.5" fill="#d07f7b"/>
<circle cx="1552.5" cy="479.5" r="3.5" fill="#d07f7b"/>
<circle cx="1552.5" cy="492.5" r="3.5" fill="#d07f7b"/>
<circle cx="1562.5" cy="496.25" r="3.5" fill="#d07f7b"/>
<circle cx="1542.5" cy="500.75" r="3.5" fill="#d07f7b"/>
<circle cx="1552.5" cy="502.5" r="3.5" fill="#d07f7b"/>
<circle cx="1562.5" cy="502.5" r="3.5" fill="#d07f7b"/>
<circle cx="1552.5" cy="513.25" r="3.5" fill="#d07f7b"/>
<circle cx="1582.5" cy="576.25" r="3.5" fill="#6262da"/>
<circle cx="1586.25" cy="578.75" r="3.5" fill="#6262da"/>
<circle cx="1592.5" cy="580" r="3.5" fill="#6262da"/>
<circle cx="1598.75" cy="580" r="3.5" fill="#6262da"/>
<circle cx="1602.5" cy="580" r="3.5" fill="#6262da"/>
<circle cx="1590" cy="577.5" r="3.5" fill="#6262da"/>
<circle cx="1631.75" cy="489.25" r="3.5" fill="#d07f7b"/>
<circle cx="1622" cy="508" r="3.5" fill="#d07f7b"/>
<circle cx="1631.75" cy="506.5" r="3.5" fill="#d07f7b"/>
<circle cx="1641.5" cy="502.5" r="3.5" fill="#d07f7b"/>
<circle cx="1641.5" cy="510" r="3.5" fill="#d07f7b"/>
<circle cx="1622" cy="515" r="3.5" fill="#d07f7b"/>
<circle cx="1631.75" cy="516.25" r="3.5" fill="#d07f7b"/>
<circle cx="1641.5" cy="519.5" r="3.5" fill="#d07f7b"/>
<circle cx="1622" cy="522.5" r="3.5" fill="#d07f7b"/>
<circle cx="1661.25" cy="580" r="3.5" fill="#6262da"/>
<circle cx="1665" cy="580" r="3.5" fill="#6262da"/>
<circle cx="1668.75" cy="580.25" r="3.5" fill="#6262da"/>
<circle cx="1672.5" cy="580.25" r="3.5" fill="#6262da"/>
<circle cx="1676.25" cy="580.25" r="3.5" fill="#6262da"/>
<circle cx="1680" cy="580" r="3.5" fill="#6262da"/>
<circle cx="1682.5" cy="580" r="3.5" fill="#6262da"/>
<circle cx="1707.5" cy="532" r="3.5" fill="#d07f7b"/>
<circle cx="1713.75" cy="529.25" r="3.5" fill="#d07f7b"/>
<circle cx="1720" cy="528.25" r="3.5" fill="#d07f7b"/>
<circle cx="1700.75" cy="545" r="3.5" fill="#d07f7b"/>
<circle cx="1707.5" cy="543" r="3.5" fill="#d07f7b"/>
<circle cx="1713.75" cy="543" r="3.5" fill="#d07f7b"/>
<circle cx="1720" cy="543.75" r="3.5" fill="#d07f7b"/>
<circle cx="1707.5" cy="550" r="3.5" fill="#d07f7b"/>
<circle cx="1713.75" cy="558.75" r="3.5" fill="#d07f7b"/>
<circle cx="1707.5" cy="561.25" r="3.5" fill="#d07f7b"/>
<path d="M1480,387V580.5M1474,580.5H1736.5" stroke="#222" stroke-width="1.7" fill="none"/>
<line x1="1474" y1="580.5" x2="1480" y2="580.5" stroke="#222" stroke-width="1.7"/>
<text x="1471.4" y="591.9" text-anchor="end" font-size="27.5">0</text>
<line x1="1474" y1="541.8" x2="1480" y2="541.8" stroke="#222" stroke-width="1.7"/>
<text x="1471.4" y="553.2" text-anchor="end" font-size="27.5">1</text>
<line x1="1474" y1="503.1" x2="1480" y2="503.1" stroke="#222" stroke-width="1.7"/>
<text x="1471.4" y="514.5" text-anchor="end" font-size="27.5">2</text>
<line x1="1474" y1="464.4" x2="1480" y2="464.4" stroke="#222" stroke-width="1.7"/>
<text x="1471.4" y="475.8" text-anchor="end" font-size="27.5">3</text>
<line x1="1474" y1="425.7" x2="1480" y2="425.7" stroke="#222" stroke-width="1.7"/>
<text x="1471.4" y="437.1" text-anchor="end" font-size="27.5">4</text>
<line x1="1474" y1="387" x2="1480" y2="387" stroke="#222" stroke-width="1.7"/>
<text x="1471.4" y="398.4" text-anchor="end" font-size="27.5">5</text>
<line x1="1508" y1="397.5" x2="1559.25" y2="397.5" stroke="#000" stroke-width="2.2" stroke-linecap="round"/>
<text x="1532.33" y="396.9" text-anchor="middle" class="st">***</text>
<line x1="1589.25" y1="474.5" x2="1640.5" y2="474.5" stroke="#000" stroke-width="2.2" stroke-linecap="round"/>
<text x="1613.58" y="473.9" text-anchor="middle" class="st">***</text>
<line x1="1674.25" y1="515.75" x2="1725.5" y2="515.75" stroke="#000" stroke-width="2.2" stroke-linecap="round"/>
<text x="1698.58" y="515.15" text-anchor="middle" class="st">***</text>
<text x="1508.4" y="612.8" text-anchor="middle" font-size="27.5">F</text>
<text x="1552.9" y="612.8" text-anchor="middle" font-size="27.5">R</text>
<text x="1591.2" y="612.8" text-anchor="middle" font-size="27.5">F</text>
<text x="1632.4" y="612.8" text-anchor="middle" font-size="27.5">R</text>
<text x="1671.9" y="612.8" text-anchor="middle" font-size="27.5">F</text>
<text x="1712.4" y="612.8" text-anchor="middle" font-size="27.5">R</text>
<line x1="1497.4" y1="616.1" x2="1559.8" y2="616.1" stroke="#000" stroke-width="2.1" stroke-linecap="round"/>
<line x1="1586" y1="616.1" x2="1648.4" y2="616.1" stroke="#000" stroke-width="2.1" stroke-linecap="round"/>
<line x1="1666.8" y1="616.1" x2="1729.2" y2="616.1" stroke="#000" stroke-width="2.1" stroke-linecap="round"/>
<text x="1537.1" y="646.8" text-anchor="middle" font-size="27.5">1st</text>
<text x="1622.7" y="646.8" text-anchor="middle" font-size="27.5">2nd</text>
<text x="1703.7" y="646.8" text-anchor="middle" font-size="27.5">3rd</text>
<text x="1478" y="370" font-size="32.3" font-style="italic">SPX10</text>
<line x1="1884.95" y1="387" x2="1884.95" y2="583.5" stroke="#777" stroke-width="1.5" stroke-dasharray="5.3,4"/>
<line x1="1963.85" y1="387" x2="1963.85" y2="583.5" stroke="#777" stroke-width="1.5" stroke-dasharray="5.3,4"/>
<rect x="1806.05" y="545.5" width="24.6" height="34.5" fill="#fff" stroke="#111" stroke-width="1.6"/>
<rect x="1852.85" y="479.25" width="24.6" height="100.75" fill="#fff" stroke="#111" stroke-width="1.6"/>
<rect x="1891.75" y="544.25" width="24.6" height="35.75" fill="#fff" stroke="#111" stroke-width="1.6"/>
<rect x="1931.65" y="460.5" width="24.6" height="119.5" fill="#fff" stroke="#111" stroke-width="1.6"/>
<rect x="1970.95" y="542" width="24.6" height="38" fill="#fff" stroke="#111" stroke-width="1.6"/>
<rect x="2010.85" y="540.75" width="24.6" height="39.25" fill="#fff" stroke="#111" stroke-width="1.6"/>
<path d="M1818.35,542.5V550.5M1811.05,542.5H1825.65M1811.05,550.5H1825.65" stroke="#111" stroke-width="1.6" fill="none"/>
<path d="M1865.15,457V500M1857.85,457H1872.45M1857.85,500H1872.45" stroke="#111" stroke-width="1.6" fill="none"/>
<path d="M1904.05,536.25V550M1896.75,536.25H1911.35M1896.75,550H1911.35" stroke="#111" stroke-width="1.6" fill="none"/>
<path d="M1943.95,436.75V483.75M1936.65,436.75H1951.25M1936.65,483.75H1951.25" stroke="#111" stroke-width="1.6" fill="none"/>
<path d="M1983.25,530.75V552M1975.95,530.75H1990.55M1975.95,552H1990.55" stroke="#111" stroke-width="1.6" fill="none"/>
<path d="M2023.15,523.25V556.5M2015.85,523.25H2030.45M2015.85,556.5H2030.45" stroke="#111" stroke-width="1.6" fill="none"/>
<circle cx="1809" cy="542" r="3.5" fill="#6262da"/>
<circle cx="1812.75" cy="539.5" r="3.5" fill="#6262da"/>
<circle cx="1817.75" cy="542.5" r="3.5" fill="#6262da"/>
<circle cx="1822.75" cy="542.5" r="3.5" fill="#6262da"/>
<circle cx="1828.5" cy="542.5" r="3.5" fill="#6262da"/>
<circle cx="1809" cy="544.5" r="3.5" fill="#6262da"/>
<circle cx="1815.25" cy="546.25" r="3.5" fill="#6262da"/>
<circle cx="1821.5" cy="547" r="3.5" fill="#6262da"/>
<circle cx="1815.25" cy="553.75" r="3.5" fill="#6262da"/>
<circle cx="1821.5" cy="552.5" r="3.5" fill="#6262da"/>
<circle cx="1859.75" cy="445.5" r="3.5" fill="#d07f7b"/>
<circle cx="1869.75" cy="447.5" r="3.5" fill="#d07f7b"/>
<circle cx="1864.75" cy="456.25" r="3.5" fill="#d07f7b"/>
<circle cx="1874.75" cy="475" r="3.5" fill="#d07f7b"/>
<circle cx="1864.75" cy="479.25" r="3.5" fill="#d07f7b"/>
<circle cx="1854.75" cy="492" r="3.5" fill="#d07f7b"/>
<circle cx="1864.75" cy="492" r="3.5" fill="#d07f7b"/>
<circle cx="1874.75" cy="493.75" r="3.5" fill="#d07f7b"/>
<circle cx="1859.75" cy="503" r="3.5" fill="#d07f7b"/>
<circle cx="1869.75" cy="502.5" r="3.5" fill="#d07f7b"/>
<circle cx="1904" cy="529.5" r="3.5" fill="#6262da"/>
<circle cx="1899" cy="538.75" r="3.5" fill="#6262da"/>
<circle cx="1906.5" cy="540" r="3.5" fill="#6262da"/>
<circle cx="1894" cy="547.5" r="3.5" fill="#6262da"/>
<circle cx="1900.25" cy="547.5" r="3.5" fill="#6262da"/>
<circle cx="1906.5" cy="544.5" r="3.5" fill="#6262da"/>
<circle cx="1914" cy="552.5" r="3.5" fill="#6262da"/>
<circle cx="1904" cy="550" r="3.5" fill="#6262da"/>
<circle cx="1943.5" cy="417.5" r="3.5" fill="#d07f7b"/>
<circle cx="1943.5" cy="436.25" r="3.5" fill="#d07f7b"/>
<circle cx="1937" cy="450.5" r="3.5" fill="#d07f7b"/>
<circle cx="1950.25" cy="451.25" r="3.5" fill="#d07f7b"/>
<circle cx="1937" cy="465" r="3.5" fill="#d07f7b"/>
<circle cx="1950.25" cy="465" r="3.5" fill="#d07f7b"/>
<circle cx="1937" cy="479.5" r="3.5" fill="#d07f7b"/>
<circle cx="1950.25" cy="480" r="3.5" fill="#d07f7b"/>
<circle cx="1943.5" cy="471.25" r="3.5" fill="#d07f7b"/>
<circle cx="1943.5" cy="490" r="3.5" fill="#d07f7b"/>
<circle cx="1982.75" cy="520.5" r="3.5" fill="#6262da"/>
<circle cx="1972.75" cy="537" r="3.5" fill="#6262da"/>
<circle cx="1982.75" cy="534.5" r="3.5" fill="#6262da"/>
<circle cx="1992.75" cy="536.25" r="3.5" fill="#6262da"/>
<circle cx="1972.75" cy="544.5" r="3.5" fill="#6262da"/>
<circle cx="1992.75" cy="544.5" r="3.5" fill="#6262da"/>
<circle cx="1982.75" cy="551.25" r="3.5" fill="#6262da"/>
<circle cx="1972.75" cy="557" r="3.5" fill="#6262da"/>
<circle cx="1992.75" cy="551.25" r="3.5" fill="#6262da"/>
<circle cx="2012.75" cy="517" r="3.5" fill="#d07f7b"/>
<circle cx="2032.75" cy="519.25" r="3.5" fill="#d07f7b"/>
<circle cx="2022.75" cy="523.75" r="3.5" fill="#d07f7b"/>
<circle cx="2012.75" cy="542" r="3.5" fill="#d07f7b"/>
<circle cx="2032.75" cy="540.5" r="3.5" fill="#d07f7b"/>
<circle cx="2022.75" cy="551.25" r="3.5" fill="#d07f7b"/>
<circle cx="2032.75" cy="547.5" r="3.5" fill="#d07f7b"/>
<circle cx="2017.75" cy="563.75" r="3.5" fill="#d07f7b"/>
<circle cx="2027.75" cy="562.5" r="3.5" fill="#d07f7b"/>
<path d="M1792.75,387V580M1786.75,580H2049.25" stroke="#222" stroke-width="1.7" fill="none"/>
<line x1="1786.75" y1="580" x2="1792.75" y2="580" stroke="#222" stroke-width="1.7"/>
<text x="1784.15" y="591.4" text-anchor="end" font-size="27.5">0</text>
<line x1="1786.75" y1="515.67" x2="1792.75" y2="515.67" stroke="#222" stroke-width="1.7"/>
<text x="1784.15" y="527.07" text-anchor="end" font-size="27.5">1</text>
<line x1="1786.75" y1="451.33" x2="1792.75" y2="451.33" stroke="#222" stroke-width="1.7"/>
<text x="1784.15" y="462.73" text-anchor="end" font-size="27.5">2</text>
<line x1="1786.75" y1="387" x2="1792.75" y2="387" stroke="#222" stroke-width="1.7"/>
<text x="1784.15" y="398.4" text-anchor="end" font-size="27.5">3</text>
<line x1="1821.5" y1="431.25" x2="1872.75" y2="431.25" stroke="#000" stroke-width="2.2" stroke-linecap="round"/>
<text x="1845.83" y="430.65" text-anchor="middle" class="st">***</text>
<line x1="1902" y1="404.5" x2="1953.5" y2="404.5" stroke="#000" stroke-width="2.2" stroke-linecap="round"/>
<text x="1926.45" y="403.9" text-anchor="middle" class="st">***</text>
<line x1="1981.5" y1="498.75" x2="2032.75" y2="498.75" stroke="#000" stroke-width="2.2" stroke-linecap="round"/>
<text x="2007.12" y="494.25" text-anchor="middle" font-size="24">ns</text>
<text x="1819.95" y="612.3" text-anchor="middle" font-size="27.5">F</text>
<text x="1864.45" y="612.3" text-anchor="middle" font-size="27.5">R</text>
<text x="1902.75" y="612.3" text-anchor="middle" font-size="27.5">F</text>
<text x="1943.95" y="612.3" text-anchor="middle" font-size="27.5">R</text>
<text x="1983.45" y="612.3" text-anchor="middle" font-size="27.5">F</text>
<text x="2023.95" y="612.3" text-anchor="middle" font-size="27.5">R</text>
<line x1="1808.95" y1="615.6" x2="1871.35" y2="615.6" stroke="#000" stroke-width="2.1" stroke-linecap="round"/>
<line x1="1897.55" y1="615.6" x2="1959.95" y2="615.6" stroke="#000" stroke-width="2.1" stroke-linecap="round"/>
<line x1="1978.35" y1="615.6" x2="2040.75" y2="615.6" stroke="#000" stroke-width="2.1" stroke-linecap="round"/>
<text x="1848.65" y="646.3" text-anchor="middle" font-size="27.5">1st</text>
<text x="1934.25" y="646.3" text-anchor="middle" font-size="27.5">2nd</text>
<text x="2015.25" y="646.3" text-anchor="middle" font-size="27.5">3rd</text>
<text x="1792.5" y="370" font-size="32.3" font-style="italic">PHR1</text>
<line x1="959.7" y1="715" x2="959.7" y2="912.5" stroke="#777" stroke-width="1.5" stroke-dasharray="5.3,4"/>
<line x1="1038.6" y1="715" x2="1038.6" y2="912.5" stroke="#777" stroke-width="1.5" stroke-dasharray="5.3,4"/>
<rect x="880.8" y="873" width="24.6" height="36" fill="#fff" stroke="#111" stroke-width="1.6"/>
<rect x="927.6" y="797" width="24.6" height="112" fill="#fff" stroke="#111" stroke-width="1.6"/>
<rect x="966.5" y="862" width="24.6" height="47" fill="#fff" stroke="#111" stroke-width="1.6"/>
<rect x="1006.4" y="801.25" width="24.6" height="107.75" fill="#fff" stroke="#111" stroke-width="1.6"/>
<rect x="1045.7" y="857.5" width="24.6" height="51.5" fill="#fff" stroke="#111" stroke-width="1.6"/>
<rect x="1085.6" y="830.5" width="24.6" height="78.5" fill="#fff" stroke="#111" stroke-width="1.6"/>
<path d="M893.1,861.25V880M885.8,861.25H900.4M885.8,880H900.4" stroke="#111" stroke-width="1.6" fill="none"/>
<path d="M939.9,775.5V816.75M932.6,775.5H947.2M932.6,816.75H947.2" stroke="#111" stroke-width="1.6" fill="none"/>
<path d="M978.8,852.5V870M971.5,852.5H986.1M971.5,870H986.1" stroke="#111" stroke-width="1.6" fill="none"/>
<path d="M1018.7,790.5V810M1011.4,790.5H1026M1011.4,810H1026" stroke="#111" stroke-width="1.6" fill="none"/>
<path d="M1058,847V870M1050.7,847H1065.3M1050.7,870H1065.3" stroke="#111" stroke-width="1.6" fill="none"/>
<path d="M1097.9,819.5V840M1090.6,819.5H1105.2M1090.6,840H1105.2" stroke="#111" stroke-width="1.6" fill="none"/>
<circle cx="893.75" cy="851.25" r="3.5" fill="#6262da"/>
<circle cx="883.25" cy="863.75" r="3.5" fill="#6262da"/>
<circle cx="893.75" cy="863.75" r="3.5" fill="#6262da"/>
<circle cx="903.25" cy="863.75" r="3.5" fill="#6262da"/>
<circle cx="883.25" cy="872" r="3.5" fill="#6262da"/>
<circle cx="890" cy="873.75" r="3.5" fill="#6262da"/>
<circle cx="897" cy="873.75" r="3.5" fill="#6262da"/>
<circle cx="903.25" cy="872" r="3.5" fill="#6262da"/>
<circle cx="883.25" cy="879.25" r="3.5" fill="#6262da"/>
<circle cx="903.25" cy="879.25" r="3.5" fill="#6262da"/>
<circle cx="939.25" cy="757" r="3.5" fill="#d07f7b"/>
<circle cx="939.25" cy="772" r="3.5" fill="#d07f7b"/>
<circle cx="932.5" cy="788.75" r="3.5" fill="#d07f7b"/>
<circle cx="945.75" cy="782.5" r="3.5" fill="#d07f7b"/>
<circle cx="932.5" cy="801.25" r="3.5" fill="#d07f7b"/>
<circle cx="939.25" cy="801.25" r="3.5" fill="#d07f7b"/>
<circle cx="945.75" cy="801.25" r="3.5" fill="#d07f7b"/>
<circle cx="932.5" cy="810" r="3.5" fill="#d07f7b"/>
<circle cx="939.25" cy="810" r="3.5" fill="#d07f7b"/>
<circle cx="932.5" cy="820" r="3.5" fill="#d07f7b"/>
<circle cx="945.75" cy="818" r="3.5" fill="#d07f7b"/>
<circle cx="978.75" cy="846.25" r="3.5" fill="#6262da"/>
<circle cx="972.5" cy="854.5" r="3.5" fill="#6262da"/>
<circle cx="982.5" cy="853.75" r="3.5" fill="#6262da"/>
<circle cx="978.75" cy="858.75" r="3.5" fill="#6262da"/>
<circle cx="975" cy="862.5" r="3.5" fill="#6262da"/>
<circle cx="982.5" cy="863" r="3.5" fill="#6262da"/>
<circle cx="968.75" cy="870" r="3.5" fill="#6262da"/>
<circle cx="978.75" cy="871.25" r="3.5" fill="#6262da"/>
<circle cx="988.75" cy="868.75" r="3.5" fill="#6262da"/>
<circle cx="1008.75" cy="794.25" r="3.5" fill="#d07f7b"/>
<circle cx="1015" cy="792.5" r="3.5" fill="#d07f7b"/>
<circle cx="1021.25" cy="790" r="3.5" fill="#d07f7b"/>
<circle cx="1028.75" cy="788.75" r="3.5" fill="#d07f7b"/>
<circle cx="1013.75" cy="801.25" r="3.5" fill="#d07f7b"/>
<circle cx="1022.5" cy="798.75" r="3.5" fill="#d07f7b"/>
<circle cx="1028.75" cy="797" r="3.5" fill="#d07f7b"/>
<circle cx="1018.75" cy="803.75" r="3.5" fill="#d07f7b"/>
<circle cx="1025" cy="806.25" r="3.5" fill="#d07f7b"/>
<circle cx="1018.75" cy="818.75" r="3.5" fill="#d07f7b"/>
<circle cx="1054.5" cy="839.5" r="3.5" fill="#6262da"/>
<circle cx="1061.25" cy="846.25" r="3.5" fill="#6262da"/>
<circle cx="1067.5" cy="848.75" r="3.5" fill="#6262da"/>
<circle cx="1054.5" cy="853.75" r="3.5" fill="#6262da"/>
<circle cx="1061.25" cy="857.5" r="3.5" fill="#6262da"/>
<circle cx="1047.5" cy="860" r="3.5" fill="#6262da"/>
<circle cx="1054.5" cy="867.5" r="3.5" fill="#6262da"/>
<circle cx="1061.25" cy="868" r="3.5" fill="#6262da"/>
<circle cx="1067.5" cy="865.5" r="3.5" fill="#6262da"/>
<circle cx="1047.5" cy="868.75" r="3.5" fill="#6262da"/>
<circle cx="1097" cy="813.75" r="3.5" fill="#d07f7b"/>
<circle cx="1087.5" cy="823.75" r="3.5" fill="#d07f7b"/>
<circle cx="1093.75" cy="824.5" r="3.5" fill="#d07f7b"/>
<circle cx="1100" cy="824.5" r="3.5" fill="#d07f7b"/>
<circle cx="1106.25" cy="825" r="3.5" fill="#d07f7b"/>
<circle cx="1087.5" cy="830.5" r="3.5" fill="#d07f7b"/>
<circle cx="1093.75" cy="832.5" r="3.5" fill="#d07f7b"/>
<circle cx="1100" cy="832.5" r="3.5" fill="#d07f7b"/>
<circle cx="1093.75" cy="846.25" r="3.5" fill="#d07f7b"/>
<circle cx="1100" cy="847" r="3.5" fill="#d07f7b"/>
<path d="M867.5,715V909M861.5,909H1124" stroke="#222" stroke-width="1.7" fill="none"/>
<line x1="861.5" y1="909" x2="867.5" y2="909" stroke="#222" stroke-width="1.7"/>
<text x="858.9" y="920.4" text-anchor="end" font-size="27.5">0</text>
<line x1="861.5" y1="844.33" x2="867.5" y2="844.33" stroke="#222" stroke-width="1.7"/>
<text x="858.9" y="855.73" text-anchor="end" font-size="27.5">1</text>
<line x1="861.5" y1="779.67" x2="867.5" y2="779.67" stroke="#222" stroke-width="1.7"/>
<text x="858.9" y="791.07" text-anchor="end" font-size="27.5">2</text>
<line x1="861.5" y1="715" x2="867.5" y2="715" stroke="#222" stroke-width="1.7"/>
<text x="858.9" y="726.4" text-anchor="end" font-size="27.5">3</text>
<line x1="898" y1="744.25" x2="949.5" y2="744.25" stroke="#000" stroke-width="2.2" stroke-linecap="round"/>
<text x="922.45" y="743.65" text-anchor="middle" class="st">***</text>
<line x1="976.75" y1="776.5" x2="1028" y2="776.5" stroke="#000" stroke-width="2.2" stroke-linecap="round"/>
<text x="1001.08" y="775.9" text-anchor="middle" class="st">***</text>
<line x1="1055.75" y1="805.75" x2="1107.5" y2="805.75" stroke="#000" stroke-width="2.2" stroke-linecap="round"/>
<text x="1080.33" y="805.15" text-anchor="middle" class="st">***</text>
<text x="894.7" y="940.2" text-anchor="middle" font-size="27.5">F</text>
<text x="939.2" y="940.2" text-anchor="middle" font-size="27.5">R</text>
<text x="977.5" y="940.2" text-anchor="middle" font-size="27.5">F</text>
<text x="1018.7" y="940.2" text-anchor="middle" font-size="27.5">R</text>
<text x="1058.2" y="940.2" text-anchor="middle" font-size="27.5">F</text>
<text x="1098.7" y="940.2" text-anchor="middle" font-size="27.5">R</text>
<line x1="883.7" y1="943.4" x2="946.1" y2="943.4" stroke="#000" stroke-width="2.1" stroke-linecap="round"/>
<line x1="972.3" y1="943.4" x2="1034.7" y2="943.4" stroke="#000" stroke-width="2.1" stroke-linecap="round"/>
<line x1="1053.1" y1="943.4" x2="1115.5" y2="943.4" stroke="#000" stroke-width="2.1" stroke-linecap="round"/>
<text x="923.4" y="974.7" text-anchor="middle" font-size="27.5">1st</text>
<text x="1009" y="974.7" text-anchor="middle" font-size="27.5">2nd</text>
<text x="1090" y="974.7" text-anchor="middle" font-size="27.5">3rd</text>
<text x="867.25" y="695.5" font-size="32.3" font-style="italic">PAP1</text>
<line x1="1269.2" y1="717" x2="1269.2" y2="913.5" stroke="#777" stroke-width="1.5" stroke-dasharray="5.3,4"/>
<line x1="1348.1" y1="717" x2="1348.1" y2="913.5" stroke="#777" stroke-width="1.5" stroke-dasharray="5.3,4"/>
<rect x="1190.3" y="898.75" width="24.6" height="11.25" fill="#fff" stroke="#111" stroke-width="1.6"/>
<rect x="1237.1" y="804.25" width="24.6" height="105.75" fill="#fff" stroke="#111" stroke-width="1.6"/>
<rect x="1276" y="898.75" width="24.6" height="11.25" fill="#fff" stroke="#111" stroke-width="1.6"/>
<rect x="1315.9" y="817.5" width="24.6" height="92.5" fill="#fff" stroke="#111" stroke-width="1.6"/>
<rect x="1355.2" y="896.25" width="24.6" height="13.75" fill="#fff" stroke="#111" stroke-width="1.6"/>
<rect x="1395.1" y="838.75" width="24.6" height="71.25" fill="#fff" stroke="#111" stroke-width="1.6"/>
<path d="M1202.6,888.75V906.25M1195.3,888.75H1209.9M1195.3,906.25H1209.9" stroke="#111" stroke-width="1.6" fill="none"/>
<path d="M1249.4,767.5V839.25M1242.1,767.5H1256.7M1242.1,839.25H1256.7" stroke="#111" stroke-width="1.6" fill="none"/>
<path d="M1288.3,890.5V906.25M1281,890.5H1295.6M1281,906.25H1295.6" stroke="#111" stroke-width="1.6" fill="none"/>
<path d="M1328.2,804.5V829.25M1320.9,804.5H1335.5M1320.9,829.25H1335.5" stroke="#111" stroke-width="1.6" fill="none"/>
<path d="M1367.5,886.25V903.75M1360.2,886.25H1374.8M1360.2,903.75H1374.8" stroke="#111" stroke-width="1.6" fill="none"/>
<path d="M1407.4,831.25V844.5M1400.1,831.25H1414.7M1400.1,844.5H1414.7" stroke="#111" stroke-width="1.6" fill="none"/>
<circle cx="1202.5" cy="879.5" r="3.5" fill="#6262da"/>
<circle cx="1198.75" cy="888.75" r="3.5" fill="#6262da"/>
<circle cx="1206.25" cy="888.75" r="3.5" fill="#6262da"/>
<circle cx="1200" cy="896.25" r="3.5" fill="#6262da"/>
<circle cx="1206.25" cy="897" r="3.5" fill="#6262da"/>
<circle cx="1193.75" cy="902" r="3.5" fill="#6262da"/>
<circle cx="1200" cy="902.5" r="3.5" fill="#6262da"/>
<circle cx="1206.25" cy="902.5" r="3.5" fill="#6262da"/>
<circle cx="1212.5" cy="907.5" r="3.5" fill="#6262da"/>
<circle cx="1193.75" cy="906.25" r="3.5" fill="#6262da"/>
<circle cx="1248.75" cy="730" r="3.5" fill="#d07f7b"/>
<circle cx="1248.75" cy="753.25" r="3.5" fill="#d07f7b"/>
<circle cx="1248.75" cy="794.5" r="3.5" fill="#d07f7b"/>
<circle cx="1248.75" cy="801.25" r="3.5" fill="#d07f7b"/>
<circle cx="1242.5" cy="813" r="3.5" fill="#d07f7b"/>
<circle cx="1255.75" cy="819.25" r="3.5" fill="#d07f7b"/>
<circle cx="1242.5" cy="822.5" r="3.5" fill="#d07f7b"/>
<circle cx="1248.75" cy="823.75" r="3.5" fill="#d07f7b"/>
<circle cx="1242.5" cy="830.75" r="3.5" fill="#d07f7b"/>
<circle cx="1255.75" cy="834.25" r="3.5" fill="#d07f7b"/>
<circle cx="1242.5" cy="838.75" r="3.5" fill="#d07f7b"/>
<circle cx="1288" cy="883.25" r="3.5" fill="#6262da"/>
<circle cx="1281.25" cy="891.25" r="3.5" fill="#6262da"/>
<circle cx="1291.25" cy="893.25" r="3.5" fill="#6262da"/>
<circle cx="1297.5" cy="896.25" r="3.5" fill="#6262da"/>
<circle cx="1278.75" cy="900" r="3.5" fill="#6262da"/>
<circle cx="1287.5" cy="901.25" r="3.5" fill="#6262da"/>
<circle cx="1293.75" cy="901.25" r="3.5" fill="#6262da"/>
<circle cx="1278.75" cy="906.25" r="3.5" fill="#6262da"/>
<circle cx="1297.5" cy="907.5" r="3.5" fill="#6262da"/>
<circle cx="1323.25" cy="801.25" r="3.5" fill="#d07f7b"/>
<circle cx="1332.5" cy="798.25" r="3.5" fill="#d07f7b"/>
<circle cx="1328.75" cy="809.5" r="3.5" fill="#d07f7b"/>
<circle cx="1323.25" cy="816.25" r="3.5" fill="#d07f7b"/>
<circle cx="1337.5" cy="813" r="3.5" fill="#d07f7b"/>
<circle cx="1328.75" cy="820" r="3.5" fill="#d07f7b"/>
<circle cx="1317.5" cy="824.5" r="3.5" fill="#d07f7b"/>
<circle cx="1337.5" cy="825" r="3.5" fill="#d07f7b"/>
<circle cx="1328.75" cy="834.5" r="3.5" fill="#d07f7b"/>
<circle cx="1364.25" cy="881.25" r="3.5" fill="#6262da"/>
<circle cx="1357.5" cy="886.25" r="3.5" fill="#6262da"/>
<circle cx="1371.25" cy="888.25" r="3.5" fill="#6262da"/>
<circle cx="1377.5" cy="892" r="3.5" fill="#6262da"/>
<circle cx="1357.5" cy="895" r="3.5" fill="#6262da"/>
<circle cx="1367.5" cy="896.25" r="3.5" fill="#6262da"/>
<circle cx="1363.75" cy="901.25" r="3.5" fill="#6262da"/>
<circle cx="1371.25" cy="901.25" r="3.5" fill="#6262da"/>
<circle cx="1357.5" cy="908.75" r="3.5" fill="#6262da"/>
<circle cx="1363.75" cy="908.75" r="3.5" fill="#6262da"/>
<circle cx="1371.25" cy="908.25" r="3.5" fill="#6262da"/>
<circle cx="1413.75" cy="827.5" r="3.5" fill="#d07f7b"/>
<circle cx="1408.75" cy="831.25" r="3.5" fill="#d07f7b"/>
<circle cx="1400" cy="836.25" r="3.5" fill="#d07f7b"/>
<circle cx="1406.25" cy="836.25" r="3.5" fill="#d07f7b"/>
<circle cx="1415" cy="836.25" r="3.5" fill="#d07f7b"/>
<circle cx="1402.5" cy="842.5" r="3.5" fill="#d07f7b"/>
<circle cx="1408.75" cy="841.25" r="3.5" fill="#d07f7b"/>
<circle cx="1406.25" cy="848.75" r="3.5" fill="#d07f7b"/>
<circle cx="1413.75" cy="838.75" r="3.5" fill="#d07f7b"/>
<path d="M1177,717V910M1171,910H1433.5" stroke="#222" stroke-width="1.7" fill="none"/>
<line x1="1171" y1="910" x2="1177" y2="910" stroke="#222" stroke-width="1.7"/>
<text x="1168.4" y="921.4" text-anchor="end" font-size="27.5">0</text>
<line x1="1171" y1="861.75" x2="1177" y2="861.75" stroke="#222" stroke-width="1.7"/>
<text x="1168.4" y="873.15" text-anchor="end" font-size="27.5">1</text>
<line x1="1171" y1="813.5" x2="1177" y2="813.5" stroke="#222" stroke-width="1.7"/>
<text x="1168.4" y="824.9" text-anchor="end" font-size="27.5">2</text>
<line x1="1171" y1="765.25" x2="1177" y2="765.25" stroke="#222" stroke-width="1.7"/>
<text x="1168.4" y="776.65" text-anchor="end" font-size="27.5">3</text>
<line x1="1171" y1="717" x2="1177" y2="717" stroke="#222" stroke-width="1.7"/>
<text x="1168.4" y="728.4" text-anchor="end" font-size="27.5">4</text>
<line x1="1202.5" y1="720.5" x2="1254.25" y2="720.5" stroke="#000" stroke-width="2.2" stroke-linecap="round"/>
<text x="1227.08" y="719.9" text-anchor="middle" class="st">***</text>
<line x1="1285" y1="789.5" x2="1336.25" y2="789.5" stroke="#000" stroke-width="2.2" stroke-linecap="round"/>
<text x="1309.33" y="788.9" text-anchor="middle" class="st">***</text>
<line x1="1365.5" y1="816.25" x2="1416.75" y2="816.25" stroke="#000" stroke-width="2.2" stroke-linecap="round"/>
<text x="1389.83" y="815.65" text-anchor="middle" class="st">***</text>
<text x="1204.2" y="941.2" text-anchor="middle" font-size="27.5">F</text>
<text x="1248.7" y="941.2" text-anchor="middle" font-size="27.5">R</text>
<text x="1287" y="941.2" text-anchor="middle" font-size="27.5">F</text>
<text x="1328.2" y="941.2" text-anchor="middle" font-size="27.5">R</text>
<text x="1367.7" y="941.2" text-anchor="middle" font-size="27.5">F</text>
<text x="1408.2" y="941.2" text-anchor="middle" font-size="27.5">R</text>
<line x1="1193.2" y1="944.4" x2="1255.6" y2="944.4" stroke="#000" stroke-width="2.1" stroke-linecap="round"/>
<line x1="1281.8" y1="944.4" x2="1344.2" y2="944.4" stroke="#000" stroke-width="2.1" stroke-linecap="round"/>
<line x1="1362.6" y1="944.4" x2="1425" y2="944.4" stroke="#000" stroke-width="2.1" stroke-linecap="round"/>
<text x="1232.9" y="975.7" text-anchor="middle" font-size="27.5">1st</text>
<text x="1318.5" y="975.7" text-anchor="middle" font-size="27.5">2nd</text>
<text x="1399.5" y="975.7" text-anchor="middle" font-size="27.5">3rd</text>
<text x="1179.25" y="695.5" font-size="32.3" font-style="italic">PAP9</text>
<line x1="1575.95" y1="714.5" x2="1575.95" y2="911" stroke="#777" stroke-width="1.5" stroke-dasharray="5.3,4"/>
<line x1="1654.85" y1="714.5" x2="1654.85" y2="911" stroke="#777" stroke-width="1.5" stroke-dasharray="5.3,4"/>
<rect x="1497.05" y="898.25" width="24.6" height="9.25" fill="#fff" stroke="#111" stroke-width="1.6"/>
<rect x="1543.85" y="805.5" width="24.6" height="102" fill="#fff" stroke="#111" stroke-width="1.6"/>
<rect x="1582.75" y="895" width="24.6" height="12.5" fill="#fff" stroke="#111" stroke-width="1.6"/>
<rect x="1622.65" y="792" width="24.6" height="115.5" fill="#fff" stroke="#111" stroke-width="1.6"/>
<rect x="1661.95" y="894.25" width="24.6" height="13.25" fill="#fff" stroke="#111" stroke-width="1.6"/>
<rect x="1701.85" y="833.25" width="24.6" height="74.25" fill="#fff" stroke="#111" stroke-width="1.6"/>
<path d="M1509.35,889.5V906.25M1502.05,889.5H1516.65M1502.05,906.25H1516.65" stroke="#111" stroke-width="1.6" fill="none"/>
<path d="M1556.15,776.25V834.25M1548.85,776.25H1563.45M1548.85,834.25H1563.45" stroke="#111" stroke-width="1.6" fill="none"/>
<path d="M1595.05,886.25V903.75M1587.75,886.25H1602.35M1587.75,903.75H1602.35" stroke="#111" stroke-width="1.6" fill="none"/>
<path d="M1634.95,791.25V811.25M1627.65,791.25H1642.25M1627.65,811.25H1642.25" stroke="#111" stroke-width="1.6" fill="none"/>
<path d="M1674.25,885V902.5M1666.95,885H1681.55M1666.95,902.5H1681.55" stroke="#111" stroke-width="1.6" fill="none"/>
<path d="M1714.15,819.25V846.25M1706.85,819.25H1721.45M1706.85,846.25H1721.45" stroke="#111" stroke-width="1.6" fill="none"/>
<circle cx="1514.5" cy="883.75" r="3.5" fill="#6262da"/>
<circle cx="1510" cy="887.5" r="3.5" fill="#6262da"/>
<circle cx="1506.25" cy="888.75" r="3.5" fill="#6262da"/>
<circle cx="1500" cy="898" r="3.5" fill="#6262da"/>
<circle cx="1503.75" cy="900" r="3.5" fill="#6262da"/>
<circle cx="1510" cy="900" r="3.5" fill="#6262da"/>
<circle cx="1516.25" cy="901.25" r="3.5" fill="#6262da"/>
<circle cx="1500" cy="903.75" r="3.5" fill="#6262da"/>
<circle cx="1508.75" cy="905" r="3.5" fill="#6262da"/>
<circle cx="1517.5" cy="906.25" r="3.5" fill="#6262da"/>
<circle cx="1555.75" cy="751.25" r="3.5" fill="#d07f7b"/>
<circle cx="1555.75" cy="763.75" r="3.5" fill="#d07f7b"/>
<circle cx="1555.75" cy="792.5" r="3.5" fill="#d07f7b"/>
<circle cx="1555.75" cy="807.5" r="3.5" fill="#d07f7b"/>
<circle cx="1545.75" cy="810.75" r="3.5" fill="#d07f7b"/>
<circle cx="1555.75" cy="816.25" r="3.5" fill="#d07f7b"/>
<circle cx="1565.5" cy="815" r="3.5" fill="#d07f7b"/>
<circle cx="1565.5" cy="826.25" r="3.5" fill="#d07f7b"/>
<circle cx="1555.75" cy="832" r="3.5" fill="#d07f7b"/>
<circle cx="1555.75" cy="839.5" r="3.5" fill="#d07f7b"/>
<circle cx="1595" cy="881.25" r="3.5" fill="#6262da"/>
<circle cx="1588.75" cy="883.25" r="3.5" fill="#6262da"/>
<circle cx="1591.25" cy="888.75" r="3.5" fill="#6262da"/>
<circle cx="1605" cy="895" r="3.5" fill="#6262da"/>
<circle cx="1595" cy="896.25" r="3.5" fill="#6262da"/>
<circle cx="1586.25" cy="897" r="3.5" fill="#6262da"/>
<circle cx="1585" cy="903.75" r="3.5" fill="#6262da"/>
<circle cx="1595" cy="901.25" r="3.5" fill="#6262da"/>
<circle cx="1605" cy="903.75" r="3.5" fill="#6262da"/>
<circle cx="1600" cy="902.5" r="3.5" fill="#6262da"/>
<circle cx="1635" cy="788.25" r="3.5" fill="#d07f7b"/>
<circle cx="1625" cy="795" r="3.5" fill="#d07f7b"/>
<circle cx="1645" cy="790" r="3.5" fill="#d07f7b"/>
<circle cx="1630" cy="798.25" r="3.5" fill="#d07f7b"/>
<circle cx="1640" cy="797" r="3.5" fill="#d07f7b"/>
<circle cx="1625" cy="803" r="3.5" fill="#d07f7b"/>
<circle cx="1645" cy="802.5" r="3.5" fill="#d07f7b"/>
<circle cx="1635" cy="809.5" r="3.5" fill="#d07f7b"/>
<circle cx="1645" cy="810.5" r="3.5" fill="#d07f7b"/>
<circle cx="1625" cy="816.25" r="3.5" fill="#d07f7b"/>
<circle cx="1663.75" cy="881.25" r="3.5" fill="#6262da"/>
<circle cx="1673.75" cy="881.25" r="3.5" fill="#6262da"/>
<circle cx="1663.75" cy="888.75" r="3.5" fill="#6262da"/>
<circle cx="1683.75" cy="887" r="3.5" fill="#6262da"/>
<circle cx="1673.75" cy="893.75" r="3.5" fill="#6262da"/>
<circle cx="1663.75" cy="898.75" r="3.5" fill="#6262da"/>
<circle cx="1683.75" cy="897" r="3.5" fill="#6262da"/>
<circle cx="1673.75" cy="900.5" r="3.5" fill="#6262da"/>
<circle cx="1663.75" cy="907" r="3.5" fill="#6262da"/>
<circle cx="1683.75" cy="905.75" r="3.5" fill="#6262da"/>
<circle cx="1713.75" cy="807" r="3.5" fill="#d07f7b"/>
<circle cx="1713.75" cy="815.5" r="3.5" fill="#d07f7b"/>
<circle cx="1710" cy="827" r="3.5" fill="#d07f7b"/>
<circle cx="1717" cy="827" r="3.5" fill="#d07f7b"/>
<circle cx="1703.75" cy="836.25" r="3.5" fill="#d07f7b"/>
<circle cx="1710" cy="835" r="3.5" fill="#d07f7b"/>
<circle cx="1723.75" cy="834.5" r="3.5" fill="#d07f7b"/>
<circle cx="1710" cy="840.5" r="3.5" fill="#d07f7b"/>
<circle cx="1717" cy="846.25" r="3.5" fill="#d07f7b"/>
<circle cx="1710.5" cy="852.5" r="3.5" fill="#d07f7b"/>
<path d="M1483.75,714.5V907.5M1477.75,907.5H1740.25" stroke="#222" stroke-width="1.7" fill="none"/>
<line x1="1477.75" y1="907.5" x2="1483.75" y2="907.5" stroke="#222" stroke-width="1.7"/>
<text x="1475.15" y="918.9" text-anchor="end" font-size="27.5">0</text>
<line x1="1477.75" y1="859.25" x2="1483.75" y2="859.25" stroke="#222" stroke-width="1.7"/>
<text x="1475.15" y="870.65" text-anchor="end" font-size="27.5">1</text>
<line x1="1477.75" y1="811" x2="1483.75" y2="811" stroke="#222" stroke-width="1.7"/>
<text x="1475.15" y="822.4" text-anchor="end" font-size="27.5">2</text>
<line x1="1477.75" y1="762.75" x2="1483.75" y2="762.75" stroke="#222" stroke-width="1.7"/>
<text x="1475.15" y="774.15" text-anchor="end" font-size="27.5">3</text>
<line x1="1477.75" y1="714.5" x2="1483.75" y2="714.5" stroke="#222" stroke-width="1.7"/>
<text x="1475.15" y="725.9" text-anchor="end" font-size="27.5">4</text>
<line x1="1510.5" y1="740.75" x2="1561.75" y2="740.75" stroke="#000" stroke-width="2.2" stroke-linecap="round"/>
<text x="1534.83" y="740.15" text-anchor="middle" class="st">***</text>
<line x1="1594.25" y1="778" x2="1645.5" y2="778" stroke="#000" stroke-width="2.2" stroke-linecap="round"/>
<text x="1618.58" y="777.4" text-anchor="middle" class="st">***</text>
<line x1="1669.25" y1="795" x2="1720.75" y2="795" stroke="#000" stroke-width="2.2" stroke-linecap="round"/>
<text x="1693.7" y="794.4" text-anchor="middle" class="st">***</text>
<text x="1509.75" y="938.7" text-anchor="middle" font-size="27.5">F</text>
<text x="1554.25" y="938.7" text-anchor="middle" font-size="27.5">R</text>
<text x="1592.55" y="938.7" text-anchor="middle" font-size="27.5">F</text>
<text x="1633.75" y="938.7" text-anchor="middle" font-size="27.5">R</text>
<text x="1673.25" y="938.7" text-anchor="middle" font-size="27.5">F</text>
<text x="1713.75" y="938.7" text-anchor="middle" font-size="27.5">R</text>
<line x1="1498.75" y1="941.9" x2="1561.15" y2="941.9" stroke="#000" stroke-width="2.1" stroke-linecap="round"/>
<line x1="1587.35" y1="941.9" x2="1649.75" y2="941.9" stroke="#000" stroke-width="2.1" stroke-linecap="round"/>
<line x1="1668.15" y1="941.9" x2="1730.55" y2="941.9" stroke="#000" stroke-width="2.1" stroke-linecap="round"/>
<text x="1538.45" y="973.2" text-anchor="middle" font-size="27.5">1st</text>
<text x="1624.05" y="973.2" text-anchor="middle" font-size="27.5">2nd</text>
<text x="1705.05" y="973.2" text-anchor="middle" font-size="27.5">3rd</text>
<text x="1480.5" y="695.5" font-size="32.3" font-style="italic">MGD2</text>
<line x1="1883.7" y1="716.25" x2="1883.7" y2="913" stroke="#777" stroke-width="1.5" stroke-dasharray="5.3,4"/>
<line x1="1962.6" y1="716.25" x2="1962.6" y2="913" stroke="#777" stroke-width="1.5" stroke-dasharray="5.3,4"/>
<rect x="1804.8" y="874.25" width="24.6" height="35.25" fill="#fff" stroke="#111" stroke-width="1.6"/>
<rect x="1851.6" y="760" width="24.6" height="149.5" fill="#fff" stroke="#111" stroke-width="1.6"/>
<rect x="1890.5" y="863" width="24.6" height="46.5" fill="#fff" stroke="#111" stroke-width="1.6"/>
<rect x="1930.4" y="754.25" width="24.6" height="155.25" fill="#fff" stroke="#111" stroke-width="1.6"/>
<rect x="1969.7" y="860" width="24.6" height="49.5" fill="#fff" stroke="#111" stroke-width="1.6"/>
<rect x="2009.6" y="797.5" width="24.6" height="112" fill="#fff" stroke="#111" stroke-width="1.6"/>
<path d="M1817.1,865V882.5M1809.8,865H1824.4M1809.8,882.5H1824.4" stroke="#111" stroke-width="1.6" fill="none"/>
<path d="M1863.9,745.5V773.25M1856.6,745.5H1871.2M1856.6,773.25H1871.2" stroke="#111" stroke-width="1.6" fill="none"/>
<path d="M1902.8,848V875M1895.5,848H1910.1M1895.5,875H1910.1" stroke="#111" stroke-width="1.6" fill="none"/>
<path d="M1942.7,746.25V762M1935.4,746.25H1950M1935.4,762H1950" stroke="#111" stroke-width="1.6" fill="none"/>
<path d="M1982,852V868.75M1974.7,852H1989.3M1974.7,868.75H1989.3" stroke="#111" stroke-width="1.6" fill="none"/>
<path d="M2021.9,783.75V810M2014.6,783.75H2029.2M2014.6,810H2029.2" stroke="#111" stroke-width="1.6" fill="none"/>
<circle cx="1812.75" cy="855.5" r="3.5" fill="#6262da"/>
<circle cx="1817.75" cy="862" r="3.5" fill="#6262da"/>
<circle cx="1817.75" cy="872" r="3.5" fill="#6262da"/>
<circle cx="1810.25" cy="875" r="3.5" fill="#6262da"/>
<circle cx="1827.75" cy="875.5" r="3.5" fill="#6262da"/>
<circle cx="1807.75" cy="880" r="3.5" fill="#6262da"/>
<circle cx="1817.75" cy="880" r="3.5" fill="#6262da"/>
<circle cx="1822.75" cy="881.25" r="3.5" fill="#6262da"/>
<circle cx="1827.75" cy="883.75" r="3.5" fill="#6262da"/>
<circle cx="1812.75" cy="881.25" r="3.5" fill="#6262da"/>
<circle cx="1864" cy="732.5" r="3.5" fill="#d07f7b"/>
<circle cx="1864" cy="742.5" r="3.5" fill="#d07f7b"/>
<circle cx="1859" cy="751.25" r="3.5" fill="#d07f7b"/>
<circle cx="1867.75" cy="752.5" r="3.5" fill="#d07f7b"/>
<circle cx="1859" cy="756.25" r="3.5" fill="#d07f7b"/>
<circle cx="1864" cy="760" r="3.5" fill="#d07f7b"/>
<circle cx="1854" cy="765.75" r="3.5" fill="#d07f7b"/>
<circle cx="1860.25" cy="766.25" r="3.5" fill="#d07f7b"/>
<circle cx="1867.75" cy="765.75" r="3.5" fill="#d07f7b"/>
<circle cx="1874" cy="765" r="3.5" fill="#d07f7b"/>
<circle cx="1864" cy="780" r="3.5" fill="#d07f7b"/>
<circle cx="1897" cy="843.75" r="3.5" fill="#6262da"/>
<circle cx="1910.25" cy="846.25" r="3.5" fill="#6262da"/>
<circle cx="1904" cy="852.5" r="3.5" fill="#6262da"/>
<circle cx="1897" cy="863.75" r="3.5" fill="#6262da"/>
<circle cx="1910.25" cy="865.5" r="3.5" fill="#6262da"/>
<circle cx="1904" cy="872" r="3.5" fill="#6262da"/>
<circle cx="1897" cy="879.5" r="3.5" fill="#6262da"/>
<circle cx="1910.25" cy="879.5" r="3.5" fill="#6262da"/>
<circle cx="1952.75" cy="741.75" r="3.5" fill="#d07f7b"/>
<circle cx="1946.5" cy="743.25" r="3.5" fill="#d07f7b"/>
<circle cx="1940.25" cy="744.5" r="3.5" fill="#d07f7b"/>
<circle cx="1934" cy="756.25" r="3.5" fill="#d07f7b"/>
<circle cx="1940.25" cy="756.25" r="3.5" fill="#d07f7b"/>
<circle cx="1946.5" cy="756.25" r="3.5" fill="#d07f7b"/>
<circle cx="1952.75" cy="759.5" r="3.5" fill="#d07f7b"/>
<circle cx="1932.75" cy="763.75" r="3.5" fill="#d07f7b"/>
<circle cx="1946.5" cy="763.25" r="3.5" fill="#d07f7b"/>
<circle cx="1985.25" cy="847" r="3.5" fill="#6262da"/>
<circle cx="1978.5" cy="852" r="3.5" fill="#6262da"/>
<circle cx="1985.25" cy="853.75" r="3.5" fill="#6262da"/>
<circle cx="1972.25" cy="857.5" r="3.5" fill="#6262da"/>
<circle cx="1978.5" cy="860" r="3.5" fill="#6262da"/>
<circle cx="1991.5" cy="856.25" r="3.5" fill="#6262da"/>
<circle cx="1972.25" cy="863.75" r="3.5" fill="#6262da"/>
<circle cx="1985.25" cy="865" r="3.5" fill="#6262da"/>
<circle cx="1978.5" cy="868.75" r="3.5" fill="#6262da"/>
<circle cx="1978.5" cy="875" r="3.5" fill="#6262da"/>
<circle cx="2022" cy="770" r="3.5" fill="#d07f7b"/>
<circle cx="2022" cy="780.5" r="3.5" fill="#d07f7b"/>
<circle cx="2022" cy="790" r="3.5" fill="#d07f7b"/>
<circle cx="2022" cy="798.75" r="3.5" fill="#d07f7b"/>
<circle cx="2015.25" cy="800.75" r="3.5" fill="#d07f7b"/>
<circle cx="2032" cy="800.75" r="3.5" fill="#d07f7b"/>
<circle cx="2011.5" cy="807.5" r="3.5" fill="#d07f7b"/>
<circle cx="2022" cy="807.5" r="3.5" fill="#d07f7b"/>
<circle cx="2032" cy="809.5" r="3.5" fill="#d07f7b"/>
<circle cx="2026.5" cy="807.5" r="3.5" fill="#d07f7b"/>
<path d="M1791.5,716.25V909.5M1785.5,909.5H2048" stroke="#222" stroke-width="1.7" fill="none"/>
<line x1="1785.5" y1="909.5" x2="1791.5" y2="909.5" stroke="#222" stroke-width="1.7"/>
<text x="1782.9" y="920.9" text-anchor="end" font-size="27.5">0</text>
<line x1="1785.5" y1="812.88" x2="1791.5" y2="812.88" stroke="#222" stroke-width="1.7"/>
<text x="1782.9" y="824.27" text-anchor="end" font-size="27.5">1</text>
<line x1="1785.5" y1="716.25" x2="1791.5" y2="716.25" stroke="#222" stroke-width="1.7"/>
<text x="1782.9" y="727.65" text-anchor="end" font-size="27.5">2</text>
<line x1="1816.5" y1="722.5" x2="1867.75" y2="722.5" stroke="#000" stroke-width="2.2" stroke-linecap="round"/>
<text x="1840.83" y="721.9" text-anchor="middle" class="st">***</text>
<line x1="1898.25" y1="732.5" x2="1949.5" y2="732.5" stroke="#000" stroke-width="2.2" stroke-linecap="round"/>
<text x="1922.58" y="731.9" text-anchor="middle" class="st">***</text>
<line x1="1975.25" y1="757" x2="2026.5" y2="757" stroke="#000" stroke-width="2.2" stroke-linecap="round"/>
<text x="1999.58" y="756.4" text-anchor="middle" class="st">***</text>
<text x="1819.7" y="940.7" text-anchor="middle" font-size="27.5">F</text>
<text x="1864.2" y="940.7" text-anchor="middle" font-size="27.5">R</text>
<text x="1902.5" y="940.7" text-anchor="middle" font-size="27.5">F</text>
<text x="1943.7" y="940.7" text-anchor="middle" font-size="27.5">R</text>
<text x="1983.2" y="940.7" text-anchor="middle" font-size="27.5">F</text>
<text x="2023.7" y="940.7" text-anchor="middle" font-size="27.5">R</text>
<line x1="1808.7" y1="943.9" x2="1871.1" y2="943.9" stroke="#000" stroke-width="2.1" stroke-linecap="round"/>
<line x1="1897.3" y1="943.9" x2="1959.7" y2="943.9" stroke="#000" stroke-width="2.1" stroke-linecap="round"/>
<line x1="1978.1" y1="943.9" x2="2040.5" y2="943.9" stroke="#000" stroke-width="2.1" stroke-linecap="round"/>
<text x="1848.4" y="975.2" text-anchor="middle" font-size="27.5">1st</text>
<text x="1934" y="975.2" text-anchor="middle" font-size="27.5">2nd</text>
<text x="2015" y="975.2" text-anchor="middle" font-size="27.5">3rd</text>
<text x="1788.75" y="695.5" font-size="32.3" font-style="italic">SQD1</text>
<line x1="958.95" y1="1055.5" x2="958.95" y2="1252.25" stroke="#777" stroke-width="1.5" stroke-dasharray="5.3,4"/>
<line x1="1037.85" y1="1055.5" x2="1037.85" y2="1252.25" stroke="#777" stroke-width="1.5" stroke-dasharray="5.3,4"/>
<rect x="880.05" y="1246.25" width="24.6" height="2.5" fill="#fff" stroke="#111" stroke-width="1.6"/>
<rect x="926.85" y="1142" width="24.6" height="106.75" fill="#fff" stroke="#111" stroke-width="1.6"/>
<rect x="965.75" y="1246.25" width="24.6" height="2.5" fill="#fff" stroke="#111" stroke-width="1.6"/>
<rect x="1005.65" y="1116.25" width="24.6" height="132.5" fill="#fff" stroke="#111" stroke-width="1.6"/>
<rect x="1044.95" y="1248" width="24.6" height="0.75" fill="#fff" stroke="#111" stroke-width="1.6"/>
<rect x="1084.85" y="1217.5" width="24.6" height="31.25" fill="#fff" stroke="#111" stroke-width="1.6"/>
<path d="M892.35,1245V1248M885.05,1245H899.65M885.05,1248H899.65" stroke="#111" stroke-width="1.6" fill="none"/>
<path d="M939.15,1117.5V1165.75M931.85,1117.5H946.45M931.85,1165.75H946.45" stroke="#111" stroke-width="1.6" fill="none"/>
<path d="M978.05,1243.75V1247.5M970.75,1243.75H985.35M970.75,1247.5H985.35" stroke="#111" stroke-width="1.6" fill="none"/>
<path d="M1017.95,1091.25V1140M1010.65,1091.25H1025.25M1010.65,1140H1025.25" stroke="#111" stroke-width="1.6" fill="none"/>
<path d="M1097.15,1208.75V1227.5M1089.85,1208.75H1104.45M1089.85,1227.5H1104.45" stroke="#111" stroke-width="1.6" fill="none"/>
<circle cx="882.5" cy="1246.25" r="3.5" fill="#6262da"/>
<circle cx="886.25" cy="1243.75" r="3.5" fill="#6262da"/>
<circle cx="890" cy="1243" r="3.5" fill="#6262da"/>
<circle cx="893.75" cy="1243.75" r="3.5" fill="#6262da"/>
<circle cx="897.5" cy="1245" r="3.5" fill="#6262da"/>
<circle cx="901.25" cy="1247" r="3.5" fill="#6262da"/>
<circle cx="885" cy="1247.5" r="3.5" fill="#6262da"/>
<circle cx="892.5" cy="1247.5" r="3.5" fill="#6262da"/>
<circle cx="898.75" cy="1248" r="3.5" fill="#6262da"/>
<circle cx="903.75" cy="1247.5" r="3.5" fill="#6262da"/>
<circle cx="938.25" cy="1105" r="3.5" fill="#d07f7b"/>
<circle cx="938.25" cy="1114.25" r="3.5" fill="#d07f7b"/>
<circle cx="933.25" cy="1125.5" r="3.5" fill="#d07f7b"/>
<circle cx="943.25" cy="1124.5" r="3.5" fill="#d07f7b"/>
<circle cx="928.75" cy="1144.25" r="3.5" fill="#d07f7b"/>
<circle cx="938.25" cy="1148" r="3.5" fill="#d07f7b"/>
<circle cx="948.25" cy="1147" r="3.5" fill="#d07f7b"/>
<circle cx="938.25" cy="1155.75" r="3.5" fill="#d07f7b"/>
<circle cx="943.25" cy="1173.25" r="3.5" fill="#d07f7b"/>
<circle cx="933.25" cy="1178.75" r="3.5" fill="#d07f7b"/>
<circle cx="970" cy="1240.75" r="3.5" fill="#6262da"/>
<circle cx="973.75" cy="1245" r="3.5" fill="#6262da"/>
<circle cx="980" cy="1246.25" r="3.5" fill="#6262da"/>
<circle cx="987.5" cy="1247.5" r="3.5" fill="#6262da"/>
<circle cx="967.5" cy="1247.5" r="3.5" fill="#6262da"/>
<circle cx="977.5" cy="1247.5" r="3.5" fill="#6262da"/>
<circle cx="983.75" cy="1246.25" r="3.5" fill="#6262da"/>
<circle cx="1017.5" cy="1072.5" r="3.5" fill="#d07f7b"/>
<circle cx="1017.5" cy="1082.5" r="3.5" fill="#d07f7b"/>
<circle cx="1017.5" cy="1107.5" r="3.5" fill="#d07f7b"/>
<circle cx="1017.5" cy="1115.5" r="3.5" fill="#d07f7b"/>
<circle cx="1010.75" cy="1122.5" r="3.5" fill="#d07f7b"/>
<circle cx="1024" cy="1123.25" r="3.5" fill="#d07f7b"/>
<circle cx="1010.75" cy="1134.5" r="3.5" fill="#d07f7b"/>
<circle cx="1017.5" cy="1134.5" r="3.5" fill="#d07f7b"/>
<circle cx="1010.75" cy="1142.5" r="3.5" fill="#d07f7b"/>
<circle cx="1024" cy="1141.25" r="3.5" fill="#d07f7b"/>
<circle cx="1046.25" cy="1247.5" r="3.5" fill="#6262da"/>
<circle cx="1050" cy="1247.5" r="3.5" fill="#6262da"/>
<circle cx="1053.75" cy="1247.75" r="3.5" fill="#6262da"/>
<circle cx="1057.5" cy="1247.75" r="3.5" fill="#6262da"/>
<circle cx="1061.25" cy="1248" r="3.5" fill="#6262da"/>
<circle cx="1065" cy="1248.25" r="3.5" fill="#6262da"/>
<circle cx="1068.75" cy="1247.5" r="3.5" fill="#6262da"/>
<circle cx="1099.5" cy="1200" r="3.5" fill="#d07f7b"/>
<circle cx="1093" cy="1205.5" r="3.5" fill="#d07f7b"/>
<circle cx="1099.5" cy="1207.5" r="3.5" fill="#d07f7b"/>
<circle cx="1096.25" cy="1211.25" r="3.5" fill="#d07f7b"/>
<circle cx="1090" cy="1216.25" r="3.5" fill="#d07f7b"/>
<circle cx="1097.5" cy="1218" r="3.5" fill="#d07f7b"/>
<circle cx="1086.25" cy="1223" r="3.5" fill="#d07f7b"/>
<circle cx="1093" cy="1223" r="3.5" fill="#d07f7b"/>
<circle cx="1106.25" cy="1224.25" r="3.5" fill="#d07f7b"/>
<circle cx="1096.25" cy="1232" r="3.5" fill="#d07f7b"/>
<path d="M866.75,1055.5V1248.75M860.75,1248.75H1123.25" stroke="#222" stroke-width="1.7" fill="none"/>
<line x1="860.75" y1="1248.75" x2="866.75" y2="1248.75" stroke="#222" stroke-width="1.7"/>
<text x="858.15" y="1260.15" text-anchor="end" font-size="27.5">0</text>
<line x1="860.75" y1="1210.1" x2="866.75" y2="1210.1" stroke="#222" stroke-width="1.7"/>
<text x="858.15" y="1221.5" text-anchor="end" font-size="27.5">1</text>
<line x1="860.75" y1="1171.45" x2="866.75" y2="1171.45" stroke="#222" stroke-width="1.7"/>
<text x="858.15" y="1182.85" text-anchor="end" font-size="27.5">2</text>
<line x1="860.75" y1="1132.8" x2="866.75" y2="1132.8" stroke="#222" stroke-width="1.7"/>
<text x="858.15" y="1144.2" text-anchor="end" font-size="27.5">3</text>
<line x1="860.75" y1="1094.15" x2="866.75" y2="1094.15" stroke="#222" stroke-width="1.7"/>
<text x="858.15" y="1105.55" text-anchor="end" font-size="27.5">4</text>
<line x1="860.75" y1="1055.5" x2="866.75" y2="1055.5" stroke="#222" stroke-width="1.7"/>
<text x="858.15" y="1066.9" text-anchor="end" font-size="27.5">5</text>
<line x1="895" y1="1090.75" x2="946.25" y2="1090.75" stroke="#000" stroke-width="2.2" stroke-linecap="round"/>
<text x="919.33" y="1090.15" text-anchor="middle" class="st">***</text>
<line x1="969.5" y1="1060" x2="1021.25" y2="1060" stroke="#000" stroke-width="2.2" stroke-linecap="round"/>
<text x="994.08" y="1059.4" text-anchor="middle" class="st">***</text>
<line x1="1059.25" y1="1187" x2="1110.5" y2="1187" stroke="#000" stroke-width="2.2" stroke-linecap="round"/>
<text x="1083.58" y="1186.4" text-anchor="middle" class="st">***</text>
<text x="893.95" y="1276.65" text-anchor="middle" font-size="27.5">F</text>
<text x="938.45" y="1276.65" text-anchor="middle" font-size="27.5">R</text>
<text x="976.75" y="1276.65" text-anchor="middle" font-size="27.5">F</text>
<text x="1017.95" y="1276.65" text-anchor="middle" font-size="27.5">R</text>
<text x="1057.45" y="1276.65" text-anchor="middle" font-size="27.5">F</text>
<text x="1097.95" y="1276.65" text-anchor="middle" font-size="27.5">R</text>
<line x1="882.95" y1="1279.85" x2="945.35" y2="1279.85" stroke="#000" stroke-width="2.1" stroke-linecap="round"/>
<line x1="971.55" y1="1279.85" x2="1033.95" y2="1279.85" stroke="#000" stroke-width="2.1" stroke-linecap="round"/>
<line x1="1052.35" y1="1279.85" x2="1114.75" y2="1279.85" stroke="#000" stroke-width="2.1" stroke-linecap="round"/>
<text x="922.65" y="1310.55" text-anchor="middle" font-size="27.5">1st</text>
<text x="1008.25" y="1310.55" text-anchor="middle" font-size="27.5">2nd</text>
<text x="1089.25" y="1310.55" text-anchor="middle" font-size="27.5">3rd</text>
<text x="868.5" y="1036.75" font-size="32.3" font-style="italic">PHT1;3</text>
<line x1="1269.7" y1="1054.25" x2="1269.7" y2="1250.5" stroke="#777" stroke-width="1.5" stroke-dasharray="5.3,4"/>
<line x1="1348.6" y1="1054.25" x2="1348.6" y2="1250.5" stroke="#777" stroke-width="1.5" stroke-dasharray="5.3,4"/>
<rect x="1190.8" y="1222.5" width="24.6" height="24.5" fill="#fff" stroke="#111" stroke-width="1.6"/>
<rect x="1237.6" y="1152.5" width="24.6" height="94.5" fill="#fff" stroke="#111" stroke-width="1.6"/>
<rect x="1276.5" y="1223.25" width="24.6" height="23.75" fill="#fff" stroke="#111" stroke-width="1.6"/>
<rect x="1316.4" y="1131.25" width="24.6" height="115.75" fill="#fff" stroke="#111" stroke-width="1.6"/>
<rect x="1355.7" y="1230.5" width="24.6" height="16.5" fill="#fff" stroke="#111" stroke-width="1.6"/>
<rect x="1395.6" y="1240.75" width="24.6" height="6.25" fill="#fff" stroke="#111" stroke-width="1.6"/>
<path d="M1203.1,1214.25V1230.75M1195.8,1214.25H1210.4M1195.8,1230.75H1210.4" stroke="#111" stroke-width="1.6" fill="none"/>
<path d="M1249.9,1125V1178.25M1242.6,1125H1257.2M1242.6,1178.25H1257.2" stroke="#111" stroke-width="1.6" fill="none"/>
<path d="M1288.8,1215.5V1230.5M1281.5,1215.5H1296.1M1281.5,1230.5H1296.1" stroke="#111" stroke-width="1.6" fill="none"/>
<path d="M1328.7,1110.5V1150M1321.4,1110.5H1336M1321.4,1150H1336" stroke="#111" stroke-width="1.6" fill="none"/>
<path d="M1368,1223.75V1237.5M1360.7,1223.75H1375.3M1360.7,1237.5H1375.3" stroke="#111" stroke-width="1.6" fill="none"/>
<path d="M1407.9,1238.75V1242.5M1400.6,1238.75H1415.2M1400.6,1242.5H1415.2" stroke="#111" stroke-width="1.6" fill="none"/>
<circle cx="1203.25" cy="1203.75" r="3.5" fill="#6262da"/>
<circle cx="1203.25" cy="1213.25" r="3.5" fill="#6262da"/>
<circle cx="1203.25" cy="1220" r="3.5" fill="#6262da"/>
<circle cx="1193.25" cy="1223.75" r="3.5" fill="#6262da"/>
<circle cx="1198.75" cy="1223" r="3.5" fill="#6262da"/>
<circle cx="1208.75" cy="1219.5" r="3.5" fill="#6262da"/>
<circle cx="1213.75" cy="1223.75" r="3.5" fill="#6262da"/>
<circle cx="1208.75" cy="1227.5" r="3.5" fill="#6262da"/>
<circle cx="1203.25" cy="1227" r="3.5" fill="#6262da"/>
<circle cx="1197.5" cy="1232" r="3.5" fill="#6262da"/>
<circle cx="1249.5" cy="1093.25" r="3.5" fill="#d07f7b"/>
<circle cx="1249.5" cy="1123" r="3.5" fill="#d07f7b"/>
<circle cx="1249.5" cy="1137" r="3.5" fill="#d07f7b"/>
<circle cx="1249.5" cy="1150.5" r="3.5" fill="#d07f7b"/>
<circle cx="1249.5" cy="1159.25" r="3.5" fill="#d07f7b"/>
<circle cx="1240" cy="1167.5" r="3.5" fill="#d07f7b"/>
<circle cx="1246.25" cy="1168" r="3.5" fill="#d07f7b"/>
<circle cx="1253.75" cy="1168" r="3.5" fill="#d07f7b"/>
<circle cx="1259.5" cy="1171.25" r="3.5" fill="#d07f7b"/>
<circle cx="1249.5" cy="1179.5" r="3.5" fill="#d07f7b"/>
<circle cx="1288.25" cy="1205.5" r="3.5" fill="#6262da"/>
<circle cx="1278.75" cy="1221.25" r="3.5" fill="#6262da"/>
<circle cx="1286.25" cy="1218.75" r="3.5" fill="#6262da"/>
<circle cx="1295" cy="1225" r="3.5" fill="#6262da"/>
<circle cx="1300" cy="1226.25" r="3.5" fill="#6262da"/>
<circle cx="1278.75" cy="1228.75" r="3.5" fill="#6262da"/>
<circle cx="1287.5" cy="1226.25" r="3.5" fill="#6262da"/>
<circle cx="1295" cy="1230" r="3.5" fill="#6262da"/>
<circle cx="1328.75" cy="1100.5" r="3.5" fill="#d07f7b"/>
<circle cx="1318.75" cy="1123.25" r="3.5" fill="#d07f7b"/>
<circle cx="1328.75" cy="1120" r="3.5" fill="#d07f7b"/>
<circle cx="1338.75" cy="1115" r="3.5" fill="#d07f7b"/>
<circle cx="1338.75" cy="1121.25" r="3.5" fill="#d07f7b"/>
<circle cx="1328.75" cy="1128" r="3.5" fill="#d07f7b"/>
<circle cx="1328.75" cy="1150.75" r="3.5" fill="#d07f7b"/>
<circle cx="1318.75" cy="1158.25" r="3.5" fill="#d07f7b"/>
<circle cx="1338.75" cy="1155" r="3.5" fill="#d07f7b"/>
<circle cx="1363.75" cy="1219.5" r="3.5" fill="#6262da"/>
<circle cx="1372.5" cy="1214.5" r="3.5" fill="#6262da"/>
<circle cx="1377.5" cy="1219.5" r="3.5" fill="#6262da"/>
<circle cx="1368.75" cy="1225" r="3.5" fill="#6262da"/>
<circle cx="1372.5" cy="1223.75" r="3.5" fill="#6262da"/>
<circle cx="1358.75" cy="1242.5" r="3.5" fill="#6262da"/>
<circle cx="1367.5" cy="1242.5" r="3.5" fill="#6262da"/>
<circle cx="1375" cy="1243.75" r="3.5" fill="#6262da"/>
<circle cx="1361.25" cy="1243.75" r="3.5" fill="#6262da"/>
<circle cx="1368.75" cy="1240" r="3.5" fill="#6262da"/>
<circle cx="1400" cy="1235" r="3.5" fill="#d07f7b"/>
<circle cx="1397.5" cy="1241.25" r="3.5" fill="#d07f7b"/>
<circle cx="1405" cy="1238.75" r="3.5" fill="#d07f7b"/>
<circle cx="1408.75" cy="1237.5" r="3.5" fill="#d07f7b"/>
<circle cx="1403.75" cy="1242.5" r="3.5" fill="#d07f7b"/>
<circle cx="1411.25" cy="1241.25" r="3.5" fill="#d07f7b"/>
<circle cx="1416.25" cy="1243" r="3.5" fill="#d07f7b"/>
<circle cx="1408.75" cy="1244.5" r="3.5" fill="#d07f7b"/>
<circle cx="1401.25" cy="1243.75" r="3.5" fill="#d07f7b"/>
<circle cx="1413.75" cy="1243.75" r="3.5" fill="#d07f7b"/>
<path d="M1177.5,1054.25V1247M1171.5,1247H1434" stroke="#222" stroke-width="1.7" fill="none"/>
<line x1="1171.5" y1="1247" x2="1177.5" y2="1247" stroke="#222" stroke-width="1.7"/>
<text x="1168.9" y="1258.4" text-anchor="end" font-size="27.5">0</text>
<line x1="1171.5" y1="1198.81" x2="1177.5" y2="1198.81" stroke="#222" stroke-width="1.7"/>
<text x="1168.9" y="1210.21" text-anchor="end" font-size="27.5">1</text>
<line x1="1171.5" y1="1150.62" x2="1177.5" y2="1150.62" stroke="#222" stroke-width="1.7"/>
<text x="1168.9" y="1162.03" text-anchor="end" font-size="27.5">2</text>
<line x1="1171.5" y1="1102.44" x2="1177.5" y2="1102.44" stroke="#222" stroke-width="1.7"/>
<text x="1168.9" y="1113.84" text-anchor="end" font-size="27.5">3</text>
<line x1="1171.5" y1="1054.25" x2="1177.5" y2="1054.25" stroke="#222" stroke-width="1.7"/>
<text x="1168.9" y="1065.65" text-anchor="end" font-size="27.5">4</text>
<line x1="1207" y1="1083.25" x2="1258.25" y2="1083.25" stroke="#000" stroke-width="2.2" stroke-linecap="round"/>
<text x="1231.33" y="1082.65" text-anchor="middle" class="st">***</text>
<line x1="1287" y1="1082.5" x2="1338.25" y2="1082.5" stroke="#000" stroke-width="2.2" stroke-linecap="round"/>
<text x="1311.33" y="1081.9" text-anchor="middle" class="st">***</text>
<line x1="1371.25" y1="1200.75" x2="1422.5" y2="1200.75" stroke="#000" stroke-width="2.2" stroke-linecap="round"/>
<text x="1396.88" y="1196.25" text-anchor="middle" font-size="24">ns</text>
<text x="1204.7" y="1274.9" text-anchor="middle" font-size="27.5">F</text>
<text x="1249.2" y="1274.9" text-anchor="middle" font-size="27.5">R</text>
<text x="1287.5" y="1274.9" text-anchor="middle" font-size="27.5">F</text>
<text x="1328.7" y="1274.9" text-anchor="middle" font-size="27.5">R</text>
<text x="1368.2" y="1274.9" text-anchor="middle" font-size="27.5">F</text>
<text x="1408.7" y="1274.9" text-anchor="middle" font-size="27.5">R</text>
<line x1="1193.7" y1="1278.1" x2="1256.1" y2="1278.1" stroke="#000" stroke-width="2.1" stroke-linecap="round"/>
<line x1="1282.3" y1="1278.1" x2="1344.7" y2="1278.1" stroke="#000" stroke-width="2.1" stroke-linecap="round"/>
<line x1="1363.1" y1="1278.1" x2="1425.5" y2="1278.1" stroke="#000" stroke-width="2.1" stroke-linecap="round"/>
<text x="1233.4" y="1308.8" text-anchor="middle" font-size="27.5">1st</text>
<text x="1319" y="1308.8" text-anchor="middle" font-size="27.5">2nd</text>
<text x="1400" y="1308.8" text-anchor="middle" font-size="27.5">3rd</text>
<text x="1177.25" y="1036.75" font-size="32.3" font-style="italic">PHT1;9</text>
<line x1="1801.48" y1="1034.85" x2="1801.48" y2="1246.18" stroke="#444" stroke-width="1.5" stroke-dasharray="6,3.8"/>
<line x1="1886.98" y1="1034.85" x2="1886.98" y2="1246.18" stroke="#444" stroke-width="1.5" stroke-dasharray="6,3.8"/>
<rect x="1716.5" y="1160.27" width="27.56" height="82.41" fill="#fff" stroke="#111" stroke-width="1.6"/>
<rect x="1766.72" y="1199.68" width="27.04" height="43.01" fill="#fff" stroke="#111" stroke-width="1.6"/>
<rect x="1809.21" y="1179.07" width="27.04" height="63.61" fill="#fff" stroke="#111" stroke-width="1.6"/>
<rect x="1852.22" y="1222.08" width="27.04" height="20.6" fill="#fff" stroke="#111" stroke-width="1.6"/>
<rect x="1894.71" y="1119.33" width="27.56" height="123.36" fill="#fff" stroke="#111" stroke-width="1.6"/>
<rect x="1937.72" y="1154.35" width="27.3" height="88.33" fill="#fff" stroke="#111" stroke-width="1.6"/>
<path d="M1730.28,1140.96V1178.3M1723.28,1140.96H1737.28M1723.28,1178.3H1737.28" stroke="#111" stroke-width="1.6" fill="none"/>
<path d="M1780.24,1190.66V1208.69M1773.24,1190.66H1787.24M1773.24,1208.69H1787.24" stroke="#111" stroke-width="1.6" fill="none"/>
<path d="M1822.73,1161.56V1197.1M1815.73,1161.56H1829.73M1815.73,1197.1H1829.73" stroke="#111" stroke-width="1.6" fill="none"/>
<path d="M1865.74,1212.55V1227.23M1858.74,1212.55H1872.74M1858.74,1227.23H1872.74" stroke="#111" stroke-width="1.6" fill="none"/>
<path d="M1908.49,1081.73V1155.89M1901.49,1081.73H1915.49M1901.49,1155.89H1915.49" stroke="#111" stroke-width="1.6" fill="none"/>
<path d="M1951.37,1119.07V1188.09M1944.37,1119.07H1958.37M1944.37,1188.09H1958.37" stroke="#111" stroke-width="1.6" fill="none"/>
<circle cx="1730.66" cy="1126.28" r="3.6" fill="#6262da"/>
<circle cx="1730.66" cy="1135.29" r="3.6" fill="#6262da"/>
<circle cx="1726.03" cy="1146.88" r="3.6" fill="#6262da"/>
<circle cx="1733.24" cy="1149.97" r="3.6" fill="#6262da"/>
<circle cx="1719.59" cy="1169.29" r="3.6" fill="#6262da"/>
<circle cx="1726.03" cy="1166.71" r="3.6" fill="#6262da"/>
<circle cx="1735.81" cy="1166.71" r="3.6" fill="#6262da"/>
<circle cx="1741.48" cy="1170.57" r="3.6" fill="#6262da"/>
<circle cx="1730.66" cy="1175.72" r="3.6" fill="#6262da"/>
<circle cx="1730.66" cy="1186.03" r="3.6" fill="#6262da"/>
<circle cx="1774.96" cy="1190.66" r="3.6" fill="#d07f7b"/>
<circle cx="1780.88" cy="1189.89" r="3.6" fill="#d07f7b"/>
<circle cx="1790.41" cy="1187.31" r="3.6" fill="#d07f7b"/>
<circle cx="1769.29" cy="1201.99" r="3.6" fill="#d07f7b"/>
<circle cx="1774.96" cy="1198.9" r="3.6" fill="#d07f7b"/>
<circle cx="1785.26" cy="1195.04" r="3.6" fill="#d07f7b"/>
<circle cx="1790.41" cy="1200.19" r="3.6" fill="#d07f7b"/>
<circle cx="1780.88" cy="1203.54" r="3.6" fill="#d07f7b"/>
<circle cx="1774.96" cy="1207.14" r="3.6" fill="#d07f7b"/>
<circle cx="1785.26" cy="1206.63" r="3.6" fill="#d07f7b"/>
<circle cx="1780.88" cy="1216.42" r="3.6" fill="#d07f7b"/>
<circle cx="1822.6" cy="1147.91" r="3.6" fill="#6262da"/>
<circle cx="1817.45" cy="1169.29" r="3.6" fill="#6262da"/>
<circle cx="1827.75" cy="1164.91" r="3.6" fill="#6262da"/>
<circle cx="1811.78" cy="1177.01" r="3.6" fill="#6262da"/>
<circle cx="1822.6" cy="1179.59" r="3.6" fill="#6262da"/>
<circle cx="1833.67" cy="1178.3" r="3.6" fill="#6262da"/>
<circle cx="1817.45" cy="1186.03" r="3.6" fill="#6262da"/>
<circle cx="1829.04" cy="1187.31" r="3.6" fill="#6262da"/>
<circle cx="1817.45" cy="1205.34" r="3.6" fill="#6262da"/>
<circle cx="1827.75" cy="1200.96" r="3.6" fill="#6262da"/>
<circle cx="1860.46" cy="1209.98" r="3.6" fill="#d07f7b"/>
<circle cx="1866.38" cy="1210.49" r="3.6" fill="#d07f7b"/>
<circle cx="1857.37" cy="1225.17" r="3.6" fill="#d07f7b"/>
<circle cx="1866.38" cy="1228.52" r="3.6" fill="#d07f7b"/>
<circle cx="1875.4" cy="1224.66" r="3.6" fill="#d07f7b"/>
<circle cx="1854.79" cy="1230.32" r="3.6" fill="#d07f7b"/>
<circle cx="1860.46" cy="1230.32" r="3.6" fill="#d07f7b"/>
<circle cx="1871.53" cy="1231.09" r="3.6" fill="#d07f7b"/>
<circle cx="1865.09" cy="1223.37" r="3.6" fill="#d07f7b"/>
<circle cx="1862.52" cy="1218.22" r="3.6" fill="#d07f7b"/>
<circle cx="1907.59" cy="1055.97" r="3.6" fill="#6262da"/>
<circle cx="1918.66" cy="1049.53" r="3.6" fill="#6262da"/>
<circle cx="1897.29" cy="1121.13" r="3.6" fill="#6262da"/>
<circle cx="1907.59" cy="1118.55" r="3.6" fill="#6262da"/>
<circle cx="1918.66" cy="1127.31" r="3.6" fill="#6262da"/>
<circle cx="1897.29" cy="1135.81" r="3.6" fill="#6262da"/>
<circle cx="1907.59" cy="1132.46" r="3.6" fill="#6262da"/>
<circle cx="1918.66" cy="1138.38" r="3.6" fill="#6262da"/>
<circle cx="1907.59" cy="1144.05" r="3.6" fill="#6262da"/>
<circle cx="1907.59" cy="1162.33" r="3.6" fill="#6262da"/>
<circle cx="1943.13" cy="1112.63" r="3.6" fill="#d07f7b"/>
<circle cx="1957.81" cy="1112.11" r="3.6" fill="#d07f7b"/>
<circle cx="1943.13" cy="1126.79" r="3.6" fill="#d07f7b"/>
<circle cx="1957.81" cy="1122.93" r="3.6" fill="#d07f7b"/>
<circle cx="1950.59" cy="1140.96" r="3.6" fill="#d07f7b"/>
<circle cx="1943.13" cy="1169.29" r="3.6" fill="#d07f7b"/>
<circle cx="1957.81" cy="1170.57" r="3.6" fill="#d07f7b"/>
<circle cx="1943.13" cy="1188.6" r="3.6" fill="#d07f7b"/>
<circle cx="1957.81" cy="1190.66" r="3.6" fill="#d07f7b"/>
<circle cx="1950.59" cy="1202.77" r="3.6" fill="#d07f7b"/>
<path d="M1702.33,1034.85V1242.68M1684.82,1242.68H1979.7" stroke="#222" stroke-width="1.7" fill="none"/>
<line x1="1684.82" y1="1242.68" x2="1702.33" y2="1242.68" stroke="#222" stroke-width="1.7"/>
<text x="1679.16" y="1254.08" text-anchor="end" font-size="27.5">0</text>
<line x1="1684.82" y1="1173.66" x2="1702.33" y2="1173.66" stroke="#222" stroke-width="1.7"/>
<text x="1679.16" y="1185.06" text-anchor="end" font-size="27.5">2</text>
<line x1="1684.82" y1="1104.39" x2="1702.33" y2="1104.39" stroke="#222" stroke-width="1.7"/>
<text x="1679.16" y="1115.79" text-anchor="end" font-size="27.5">4</text>
<line x1="1684.82" y1="1034.85" x2="1702.33" y2="1034.85" stroke="#222" stroke-width="1.7"/>
<text x="1679.16" y="1046.25" text-anchor="end" font-size="27.5">6</text>
<line x1="1729.89" y1="1113.92" x2="1781.4" y2="1113.92" stroke="#000" stroke-width="2.2" stroke-linecap="round"/>
<text x="1748.14" y="1113.32" text-anchor="middle" class="st">**</text>
<line x1="1816.16" y1="1135.81" x2="1868.18" y2="1135.81" stroke="#000" stroke-width="2.2" stroke-linecap="round"/>
<text x="1834.67" y="1135.21" text-anchor="middle" class="st">**</text>
<line x1="1903.72" y1="1042.32" x2="1955.23" y2="1042.32" stroke="#000" stroke-width="2.2" stroke-linecap="round"/>
<text x="1928.18" y="1041.72" text-anchor="middle" class="st">*</text>
<text x="1727.31" y="1273.33" text-anchor="middle" font-size="27.5">F</text>
<text x="1778.05" y="1273.33" text-anchor="middle" font-size="27.5">R</text>
<text x="1819.25" y="1273.33" text-anchor="middle" font-size="27.5">F</text>
<text x="1869.21" y="1273.33" text-anchor="middle" font-size="27.5">R</text>
<text x="1906.81" y="1273.33" text-anchor="middle" font-size="27.5">F</text>
<text x="1956.26" y="1273.33" text-anchor="middle" font-size="27.5">R</text>
<line x1="1714.44" y1="1276.16" x2="1788.35" y2="1276.16" stroke="#000" stroke-width="2.2"/>
<line x1="1805.35" y1="1276.16" x2="1879.26" y2="1276.16" stroke="#000" stroke-width="2.2"/>
<line x1="1893.42" y1="1276.16" x2="1966.82" y2="1276.16" stroke="#000" stroke-width="2.2"/>
<text x="1749.2" y="1307.58" text-anchor="middle" font-size="27.5">1st</text>
<text x="1843.98" y="1307.58" text-anchor="middle" font-size="27.5">2nd</text>
<text x="1929.48" y="1307.58" text-anchor="middle" font-size="27.5">3rd</text>
<text transform="translate(1595.6,1150) rotate(-90)" font-size="31.8" text-anchor="middle" textLength="226.6" lengthAdjust="spacingAndGlyphs">Pi concentration</text>
<text transform="translate(1633.8,1150) rotate(-90)" font-size="31.8" text-anchor="middle" textLength="175" lengthAdjust="spacingAndGlyphs">(<tspan font-style="italic">μ</tspan>mol/g FW)</text>
<defs>
<filter id="soil" x="0" y="0" width="1" height="1">
 <feTurbulence type="fractalNoise" baseFrequency="0.35" numOctaves="2" seed="7" result="n"/>
 <feColorMatrix in="n" type="matrix" values="0 0 0 0 0.43  0 0 0 0 0.37  0 0 0 0 0.29  1.0 0 0 0 -0.58" result="c"/>
 <feComposite in="c" in2="SourceGraphic" operator="in"/>
</filter>
<filter id="soil2" x="0" y="0" width="1" height="1">
 <feTurbulence type="fractalNoise" baseFrequency="0.07" numOctaves="2" seed="21" result="n"/>
 <feColorMatrix in="n" type="matrix" values="0 0 0 0 0.16  0 0 0 0 0.11  0 0 0 0 0.07  1.6 0 0 0 -0.7" result="c"/>
 <feComposite in="c" in2="SourceGraphic" operator="in"/>
</filter>
<filter id="pblur" x="-0.1" y="-0.1" width="1.2" height="1.2"><feGaussianBlur in="SourceAlpha" stdDeviation="1.6" result="b"/><feFlood flood-color="#1c120a" flood-opacity="0.55"/><feComposite in2="b" operator="in" result="sh"/><feGaussianBlur in="SourceGraphic" stdDeviation="0.6" result="g"/><feMerge><feMergeNode in="sh"/><feMergeNode in="g"/></feMerge></filter>
<radialGradient id="gBR" cx="0.45" cy="0.5" r="0.6"><stop offset="0" stop-color="#76c968"/><stop offset="1" stop-color="#5fb453"/></radialGradient>
<radialGradient id="gBR2" cx="0.45" cy="0.5" r="0.6"><stop offset="0" stop-color="#7acd6b"/><stop offset="1" stop-color="#62b757"/></radialGradient>
<radialGradient id="gYG" cx="0.45" cy="0.5" r="0.6"><stop offset="0" stop-color="#7edb4c"/><stop offset="1" stop-color="#62c03a"/></radialGradient>
<radialGradient id="gDK2" cx="0.45" cy="0.5" r="0.6"><stop offset="0" stop-color="#67a767"/><stop offset="1" stop-color="#558f55"/></radialGradient>
<radialGradient id="gRG" cx="0.45" cy="0.5" r="0.6"><stop offset="0" stop-color="#68ae62"/><stop offset="1" stop-color="#559a50"/></radialGradient>
<radialGradient id="gRB" cx="0.45" cy="0.5" r="0.6"><stop offset="0" stop-color="#78c862"/><stop offset="1" stop-color="#62b150"/></radialGradient>
<clipPath id="clipF"><rect x="0" y="55" width="266.7" height="190.8"/></clipPath>
<clipPath id="clipR"><rect x="274.7" y="55" width="152.8" height="190.8"/></clipPath>
</defs>
<g clip-path="url(#clipF)">
<rect x="0" y="55" width="266.7" height="190.8" fill="#45382a"/>
<rect x="0" y="55" width="266.7" height="190.8" fill="#000" filter="url(#soil)"/>
<rect x="0" y="55" width="266.7" height="190.8" fill="#000" filter="url(#soil2)"/>
<g filter="url(#pblur)">
<ellipse cx="100" cy="219.7" rx="17" ry="15" transform="rotate(20 100 219.7)" fill="#52905a"/>
<ellipse cx="137.9" cy="240" rx="28" ry="11" transform="rotate(-5 137.9 240)" fill="#52905a"/>
<ellipse cx="192.4" cy="233.3" rx="10" ry="13" transform="rotate(0 192.4 233.3)" fill="#52905a"/>
<ellipse cx="75.8" cy="190" rx="10" ry="12" transform="rotate(20 75.8 190)" fill="#52905a"/>
<ellipse cx="128.8" cy="192.4" rx="15" ry="12" transform="rotate(30 128.8 192.4)" fill="#52905a"/>
<ellipse cx="131.8" cy="125.8" rx="11" ry="9" transform="rotate(-20 131.8 125.8)" fill="#52905a"/>
<ellipse cx="89.4" cy="59" rx="15" ry="7" transform="rotate(-10 89.4 59)" fill="#52905a"/>
<ellipse cx="92.4" cy="246" rx="16" ry="7" transform="rotate(0 92.4 246)" fill="#52905a"/>
<ellipse cx="60" cy="93" rx="12" ry="20" transform="rotate(-10 60 93)" fill="#52905a"/>
<g transform="translate(84.0,139.5) rotate(178.9)"><path d="M0,0 C4.6,-22.5 20.0,-30.9 35.4,-30.0 C55.5,-28.8 72.4,-12.6 77.0,0 C72.4,12.6 55.5,28.8 35.4,30.0 C20.0,30.9 4.6,22.5 0,0 Z" fill="url(#gBR)" /><path d="M3.9,0 L69.3,0" stroke="#8fd080" stroke-width="1.1" opacity="0.6"/></g>
<g transform="translate(92.0,136.0) rotate(-88.5)"><path d="M0,0 C4.5,-22.5 19.5,-30.9 34.5,-30.0 C54.0,-28.8 70.5,-12.6 75.0,0 C70.5,12.6 54.0,28.8 34.5,30.0 C19.5,30.9 4.5,22.5 0,0 Z" fill="url(#gBR2)" /><path d="M3.8,0 L67.5,0" stroke="#8fd080" stroke-width="1.1" opacity="0.6"/></g>
<g transform="translate(94.0,143.0) rotate(85.9)"><path d="M0,0 C4.2,-19.5 18.2,-26.8 32.3,-26.0 C50.5,-25.0 66.0,-10.9 70.2,0 C66.0,10.9 50.5,25.0 32.3,26.0 C18.2,26.8 4.2,19.5 0,0 Z" fill="url(#gBR)" /><path d="M3.5,0 L63.2,0" stroke="#8fd080" stroke-width="1.1" opacity="0.6"/></g>
<path d="M100,139.5 C115,141 132,143 154,146" stroke="#84a85a" stroke-width="3.2" fill="none"/>
<g transform="translate(156.0,145.0) rotate(-83.0)"><path d="M0,0 C2.4,-10.1 10.6,-13.9 18.8,-13.5 C29.4,-13.0 38.4,-5.7 40.8,0 C38.4,5.7 29.4,13.0 18.8,13.5 C10.6,13.9 2.4,10.1 0,0 Z" fill="url(#gYG)" /><path d="M2.0,0 L36.7,0" stroke="#a0de70" stroke-width="1.1" opacity="0.6"/></g>
<g transform="translate(154.0,148.0) rotate(107.3)"><path d="M0,0 C2.3,-9.0 10.1,-12.4 17.8,-12.0 C27.9,-11.5 36.4,-5.0 38.7,0 C36.4,5.0 27.9,11.5 17.8,12.0 C10.1,12.4 2.3,9.0 0,0 Z" fill="url(#gYG)" /><path d="M1.9,0 L34.9,0" stroke="#a0de70" stroke-width="1.1" opacity="0.6"/></g>
<g transform="translate(157.0,147.0) rotate(12.8)"><path d="M0,0 C3.0,-11.2 12.9,-15.5 22.9,-15.0 C35.8,-14.4 46.7,-6.3 49.7,0 C46.7,6.3 35.8,14.4 22.9,15.0 C12.9,15.5 3.0,11.2 0,0 Z" fill="url(#gYG)" /><path d="M2.5,0 L44.8,0" stroke="#a0de70" stroke-width="1.1" opacity="0.6"/></g>
<g transform="translate(203.0,160.0) rotate(-100.9)"><path d="M0,0 C3.2,-15.0 13.8,-20.6 24.4,-20.0 C38.1,-19.2 49.8,-8.4 53.0,0 C49.8,8.4 38.1,19.2 24.4,20.0 C13.8,20.6 3.2,15.0 0,0 Z" fill="url(#gDK2)" /><path d="M2.6,0 L47.7,0" stroke="#70aa6e" stroke-width="1.1" opacity="0.6"/></g>
<g transform="translate(196.0,172.0) rotate(131.9)"><path d="M0,0 C4.0,-17.6 17.1,-24.2 30.3,-23.5 C47.4,-22.6 61.9,-9.9 65.9,0 C61.9,9.9 47.4,22.6 30.3,23.5 C17.1,24.2 4.0,17.6 0,0 Z" fill="url(#gDK2)" /><path d="M3.3,0 L59.3,0" stroke="#70aa6e" stroke-width="1.1" opacity="0.6"/></g>
<g transform="translate(199.0,175.0) rotate(-15.2)"><path d="M0,0 C3.0,-16.9 12.9,-23.2 22.9,-22.5 C35.8,-21.6 46.7,-9.4 49.7,0 C46.7,9.4 35.8,21.6 22.9,22.5 C12.9,23.2 3.0,16.9 0,0 Z" fill="url(#gDK2)" /><path d="M2.5,0 L44.8,0" stroke="#70aa6e" stroke-width="1.1" opacity="0.6"/></g>
</g>
<path d="M171.2,134.8 C171.7,128.3 170.9,125.2 172.7,121.2 C174.5,117.2 177.8,113.0 181.8,110.6 C185.9,108.2 191.9,106.8 197.0,106.8 C202.1,106.8 208.4,108.2 212.1,110.6 C215.8,113.0 217.5,117.2 218.9,121.2 C220.3,125.2 220.4,130.5 220.5,134.8 C220.6,139.1 220.3,144.0 219.7,147.0 C219.1,150.0 215.7,152.2 217.0,153.0 C218.3,153.8 223.1,151.2 227.3,151.5 C231.5,151.8 238.8,151.7 242.4,154.5 C246.1,157.3 248.2,163.4 249.2,168.2 C250.2,173.0 249.6,178.2 248.5,183.3 C247.4,188.4 245.4,193.9 242.4,198.5 C239.4,203.1 234.6,207.8 230.3,210.6 C226.0,213.4 221.2,215.2 216.7,215.2 C212.1,215.2 205.8,211.9 203.0,210.6 C200.2,209.3 201.8,206.6 200.0,207.6 C198.2,208.6 196.2,213.4 192.4,216.7 C188.6,220.0 182.6,224.9 177.3,227.3 C172.0,229.7 165.7,231.0 160.6,231.1 C155.5,231.2 150.3,230.4 147.0,228.0 C143.7,225.6 141.8,221.4 140.9,216.7 C140.0,212.0 140.9,205.1 141.7,200.0 C142.5,194.9 143.4,191.0 145.5,186.4 C147.6,181.8 150.5,177.1 154.5,172.7 C158.5,168.3 166.9,166.3 169.7,160.0 C172.5,153.7 170.7,141.3 171.2,134.8 Z" fill="none" stroke="#fff" stroke-width="2.8" stroke-dasharray="3,3.2"/>
<rect x="12" y="180.3" width="6" height="57" fill="#fff"/>
<path d="M252.5,91 H264.5 V160 L258.5,171 L252.5,160 Z" fill="#fff"/>
<text x="185" y="95.2" font-size="36.3" style="fill:#fff">2nd</text>
</g>
<g clip-path="url(#clipR)">
<rect x="274.7" y="55" width="152.8" height="190.8" fill="#534231"/>
<rect x="274.7" y="55" width="152.8" height="190.8" fill="#000" filter="url(#soil)"/>
<rect x="274.7" y="55" width="152.8" height="190.8" fill="#000" filter="url(#soil2)"/>
<g filter="url(#pblur)">
<ellipse cx="352.6" cy="136.4" rx="7" ry="12" fill="#4f8f4c"/>
<ellipse cx="377.6" cy="163.6" rx="10" ry="10" fill="#5a9e52"/>
<g transform="translate(376.0,112.0) rotate(-143.8)"><path d="M0,0 C2.1,-10.5 9.2,-14.4 16.4,-14.0 C25.6,-13.4 33.4,-5.9 35.6,0 C33.4,5.9 25.6,13.4 16.4,14.0 C9.2,14.4 2.1,10.5 0,0 Z" fill="url(#gRG)" /><path d="M1.8,0 L32.0,0" stroke="#80c078" stroke-width="1.1" opacity="0.6"/></g>
<g transform="translate(376.0,110.0) rotate(-51.3)"><path d="M0,0 C2.5,-11.6 10.8,-16.0 19.1,-15.5 C30.0,-14.9 39.1,-6.5 41.6,0 C39.1,6.5 30.0,14.9 19.1,15.5 C10.8,16.0 2.5,11.6 0,0 Z" fill="url(#gRG)" /><path d="M2.1,0 L37.5,0" stroke="#80c078" stroke-width="1.1" opacity="0.6"/></g>
<g transform="translate(377.0,114.0) rotate(34.6)"><path d="M0,0 C2.1,-10.1 9.2,-13.9 16.2,-13.5 C25.4,-13.0 33.1,-5.7 35.2,0 C33.1,5.7 25.4,13.0 16.2,13.5 C9.2,13.9 2.1,10.1 0,0 Z" fill="url(#gRG)" /><path d="M1.8,0 L31.7,0" stroke="#80c078" stroke-width="1.1" opacity="0.6"/></g>
<path d="M329,141 C340,140 352,137 361,136.5 C366,137 370,138 373,139.5" stroke="#6c9a45" stroke-width="2.5" fill="none"/>
<g transform="translate(369.0,139.0) rotate(-80.5)"><path d="M0,0 C1.5,-6.0 6.3,-8.2 11.2,-8.0 C17.5,-7.7 22.9,-3.4 24.3,0 C22.9,3.4 17.5,7.7 11.2,8.0 C6.3,8.2 1.5,6.0 0,0 Z" fill="url(#gRB)" /><path d="M1.2,0 L21.9,0" stroke="#90d080" stroke-width="1.1" opacity="0.6"/></g>
<g transform="translate(368.5,141.0) rotate(90.0)"><path d="M0,0 C1.7,-5.6 7.5,-7.7 13.3,-7.5 C20.9,-7.2 27.3,-3.1 29.0,0 C27.3,3.1 20.9,7.2 13.3,7.5 C7.5,7.7 1.7,5.6 0,0 Z" fill="url(#gRB)" /><path d="M1.5,0 L26.1,0" stroke="#90d080" stroke-width="1.1" opacity="0.6"/></g>
<g transform="translate(371.0,141.0) rotate(11.8)"><path d="M0,0 C2.2,-8.2 9.6,-11.3 16.9,-11.0 C26.5,-10.6 34.6,-4.6 36.8,0 C34.6,4.6 26.5,10.6 16.9,11.0 C9.6,11.3 2.2,8.2 0,0 Z" fill="url(#gRB)" /><path d="M1.8,0 L33.1,0" stroke="#90d080" stroke-width="1.1" opacity="0.6"/></g>
<g transform="translate(330.0,141.0) rotate(172.5)"><path d="M0,0 C2.8,-12.4 12.0,-17.0 21.2,-16.5 C33.1,-15.8 43.2,-6.9 46.0,0 C43.2,6.9 33.1,15.8 21.2,16.5 C12.0,17.0 2.8,12.4 0,0 Z" fill="url(#gRG)" /><path d="M2.3,0 L41.4,0" stroke="#80c078" stroke-width="1.1" opacity="0.6"/></g>
<g transform="translate(330.5,139.5) rotate(-97.7)"><path d="M0,0 C2.0,-9.8 8.8,-13.4 15.5,-13.0 C24.3,-12.5 31.8,-5.5 33.8,0 C31.8,5.5 24.3,12.5 15.5,13.0 C8.8,13.4 2.0,9.8 0,0 Z" fill="url(#gRG)" /><path d="M1.7,0 L30.4,0" stroke="#80c078" stroke-width="1.1" opacity="0.6"/></g>
<g transform="translate(330.5,142.5) rotate(84.3)"><path d="M0,0 C1.9,-8.2 8.1,-11.3 14.3,-11.0 C22.4,-10.6 29.3,-4.6 31.2,0 C29.3,4.6 22.4,10.6 14.3,11.0 C8.1,11.3 1.9,8.2 0,0 Z" fill="url(#gRG)" /><path d="M1.6,0 L28.0,0" stroke="#80c078" stroke-width="1.1" opacity="0.6"/></g>
</g>
<path d="M276.0,150.0 C276.5,147.5 277.1,143.9 279.1,140.9 C281.1,137.9 284.7,133.8 288.2,131.8 C291.7,129.8 297.0,129.3 300.3,128.8 C303.6,128.3 306.1,130.1 307.9,128.8 C309.7,127.5 309.6,124.5 310.9,121.2 C312.2,117.9 313.2,112.5 315.5,109.1 C317.8,105.7 321.5,101.6 324.5,100.8 C327.5,100.0 330.6,102.4 333.6,104.5 C336.6,106.6 340.4,110.0 342.7,113.6 C345.0,117.1 346.7,121.8 347.3,125.8 C347.9,129.8 346.5,134.1 346.5,137.9 C346.5,141.7 347.1,145.5 347.3,148.5 C347.6,151.5 348.2,152.7 348.0,156.0 C347.8,159.3 346.9,164.9 345.8,168.2 C344.7,171.5 343.5,173.9 341.2,175.8 C338.9,177.7 335.1,179.1 332.1,179.5 C329.1,179.9 325.5,179.4 323.0,178.0 C320.5,176.6 318.5,173.1 317.0,171.2 C315.5,169.3 315.4,167.4 313.9,166.7 C312.4,165.9 310.7,166.4 307.9,166.7 C305.1,166.9 300.8,168.2 297.3,168.2 C293.8,168.2 289.7,167.7 286.7,166.7 C283.7,165.7 280.9,163.9 279.1,162.1 C277.3,160.3 276.5,158.0 276.0,156.0 C275.5,154.0 275.5,152.5 276.0,150.0 Z" fill="none" stroke="#fff" stroke-width="2.8" stroke-dasharray="3,3.2"/>
<rect x="286.4" y="180.3" width="6" height="57.6" fill="#fff"/>
<path d="M324.5,192 H398 L407,197.7 L398,203.8 H324.5 Z" fill="#fff"/>
<text x="292.5" y="97.9" font-size="36.3" style="fill:#fff">2nd</text>
</g>
<text x="139.2" y="280.7" font-size="32" text-anchor="middle">F</text>
<text x="344.9" y="275.8" font-size="31.6" text-anchor="middle">R</text>
<g transform="translate(470,55) scale(0.14771)">
<defs>
<linearGradient id="lgA" x1="0" x2="1" y1="0" y2="0"><stop offset="0" stop-color="#7dbb4c"/><stop offset="1" stop-color="#0e8f4b"/></linearGradient>
<linearGradient id="lgB" x1="1" x2="0" y1="0" y2="0"><stop offset="0" stop-color="#7dbb4c"/><stop offset="1" stop-color="#0e8f4b"/></linearGradient>
<linearGradient id="lgU1" x1="0" x2="1" y1="0" y2="0"><stop offset="0" stop-color="#a6d48e"/><stop offset="1" stop-color="#16975a"/></linearGradient>
<linearGradient id="lgU2" x1="0" x2="1" y1="0" y2="0"><stop offset="0" stop-color="#1c9a4a"/><stop offset="0.55" stop-color="#5fb32e"/><stop offset="1" stop-color="#c3d900"/></linearGradient>
<linearGradient id="lgC1" x1="0" x2="1" y1="0" y2="0"><stop offset="0" stop-color="#c4da00"/><stop offset="1" stop-color="#3c9f3c"/></linearGradient>
<linearGradient id="lgC2" x1="0" x2="1" y1="0" y2="0"><stop offset="0" stop-color="#3c9f3c"/><stop offset="1" stop-color="#c4da00"/></linearGradient>
<linearGradient id="lgStem" x1="0" x2="0" gradientUnits="userSpaceOnUse" y1="215" y2="1312"><stop offset="0" stop-color="#4a772a"/><stop offset="0.3" stop-color="#4c9a3a"/><stop offset="0.62" stop-color="#3aa040"/><stop offset="0.8" stop-color="#5a8f35"/><stop offset="1" stop-color="#467528"/></linearGradient>
<linearGradient id="lgTop" x1="0" x2="0" y1="1" y2="0"><stop offset="0" stop-color="#7dbb4c"/><stop offset="1" stop-color="#0e8f4b"/></linearGradient>
<linearGradient id="lgDn" x1="0" x2="0" y1="0" y2="1"><stop offset="0" stop-color="#0e8f4b"/><stop offset="1" stop-color="#7dbb4c"/></linearGradient>
</defs>
<path d="M860,362 L1090,232 L1240,168" stroke="#52b672" stroke-width="15" fill="none" stroke-linecap="round"/>
<path d="M850,820 L500,622 L430,600" stroke="#52b672" stroke-width="15" fill="none" stroke-linecap="round"/>
<path d="M860,912 L1160,745 L1220,715" stroke="#52b672" stroke-width="15" fill="none" stroke-linecap="round"/>
<path d="M1090,232 L1075,195" stroke="#52b672" stroke-width="15" fill="none" stroke-linecap="round"/>
<path d="M1160,745 L1160,725" stroke="#52b672" stroke-width="15" fill="none" stroke-linecap="round"/>
<path d="M500,622 L520,620" stroke="#52b672" stroke-width="15" fill="none" stroke-linecap="round"/>
<path d="M855,225 L830,195 L815,180" stroke="#52b672" stroke-width="15" fill="none" stroke-linecap="round"/>
<path d="M855,215 V1312" stroke="url(#lgStem)" stroke-width="16" fill="none"/>
<path d="M945,20 C1000,18 1060,15 1100,50 C1140,90 1140,150 1085,195 C1020,200 975,170 962,120 C955,80 950,50 945,20 Z" fill="url(#lgA)"/>
<path d="M952,28 C1030,70 1075,110 1082,190" stroke="#fff" stroke-width="6" fill="none" stroke-linecap="round"/>
<path d="M1240,170 C1235,110 1280,85 1320,92 C1400,120 1450,200 1487,258 C1440,290 1380,330 1310,300 C1260,270 1240,220 1240,170 Z" fill="url(#lgDn)"/>
<path d="M1245,172 C1330,180 1400,230 1482,257" stroke="#fff" stroke-width="6" fill="none" stroke-linecap="round"/>
<path d="M1135,235 C1210,220 1300,265 1360,330 C1405,390 1405,450 1362,497 C1290,430 1190,360 1150,305 C1130,275 1130,255 1135,235 Z" fill="url(#lgA)"/>
<path d="M1150,240 C1280,310 1325,390 1357,490" stroke="#fff" stroke-width="6" fill="none" stroke-linecap="round"/>
<path d="M80,548 C200,505 330,470 400,500 C455,530 450,585 430,602 C380,640 300,700 165,690 C115,645 95,600 80,548 Z" fill="url(#lgA)"/>
<path d="M88,552 C240,560 330,575 430,605" stroke="#fff" stroke-width="6" fill="none" stroke-linecap="round"/>
<path d="M700,410 C640,398 560,390 500,420 C450,470 460,570 522,622 C600,640 660,580 688,500 C698,460 700,430 700,410 Z" fill="url(#lgB)"/>
<path d="M695,416 C560,460 510,520 525,618" stroke="#fff" stroke-width="6" fill="none" stroke-linecap="round"/>
<path d="M492,640 C502,720 440,780 380,840 C300,910 230,960 212,968 C168,920 150,860 198,790 C280,712 400,652 492,640 Z" fill="url(#lgB)"/>
<path d="M488,644 C320,720 240,830 216,962" stroke="#fff" stroke-width="6" fill="none" stroke-linecap="round"/>
<path d="M1005,550 C1060,540 1150,530 1190,580 C1215,640 1190,700 1165,722 C1100,730 1030,700 1017,640 C1007,600 1005,575 1005,550 Z" fill="url(#lgA)"/>
<path d="M1010,555 C1120,590 1170,640 1165,718" stroke="#fff" stroke-width="6" fill="none" stroke-linecap="round"/>
<path d="M1215,720 C1200,680 1230,630 1290,625 C1380,630 1450,665 1507,692 C1482,760 1450,800 1390,805 C1300,800 1232,760 1215,720 Z" fill="url(#lgDn)"/>
<path d="M1218,712 C1290,670 1400,680 1502,692" stroke="#fff" stroke-width="6" fill="none" stroke-linecap="round"/>
<path d="M1155,750 C1240,750 1310,790 1350,850 C1372,900 1352,950 1327,972 C1260,930 1180,860 1162,800 C1152,772 1152,760 1155,750 Z" fill="url(#lgA)"/>
<path d="M1162,758 C1270,800 1320,880 1326,966" stroke="#fff" stroke-width="6" fill="none" stroke-linecap="round"/>
<path d="M712,150 C750,140 800,138 830,170 C820,190 790,200 760,195 C735,185 720,170 712,150 Z" fill="url(#lgA)"/>
<path d="M905,120 C880,105 840,105 830,125 C825,160 835,180 855,185 C880,180 895,150 905,120 Z" fill="url(#lgB)"/>
<path d="M708,272 C720,240 760,205 810,195 C835,195 840,210 835,225 C800,250 750,260 708,272 Z" fill="url(#lgA)"/>
<path d="M850,1015 C820,1025 680,1030 570,1010 C490,990 490,920 570,895 C680,870 800,885 840,930 C855,960 852,990 850,1015 Z" fill="url(#lgU1)"/>
<path d="M862,1000 C950,985 1100,930 1200,935 C1270,945 1268,1010 1200,1040 C1100,1085 960,1120 900,1090 C870,1060 860,1030 862,1000 Z" fill="url(#lgU2)"/>
<path d="M852,1200 C830,1160 770,1162 742,1205 C725,1235 735,1265 765,1255 C805,1238 840,1222 852,1200 Z" fill="url(#lgC1)"/>
<path d="M858,1195 C890,1158 960,1158 983,1195 C992,1228 945,1232 905,1220 C875,1210 862,1202 858,1195 Z" fill="url(#lgC2)"/>
</g>
<text y="53.6" font-size="22.6"><tspan x="594.6">3rd</tspan> <tspan x="631.3">trifoliate</tspan> <tspan x="715">leaf</tspan></text>
<text x="454.6" y="110.3" font-size="22" textLength="122" lengthAdjust="spacingAndGlyphs">2nd trifoliate</text>
<text x="455.3" y="129" font-size="22" textLength="35.5" lengthAdjust="spacingAndGlyphs">leaf</text>
<text x="673.3" y="196" font-size="22" textLength="113.3" lengthAdjust="spacingAndGlyphs">1st trifoliate</text>
<text x="672.5" y="213.7" font-size="22" textLength="35" lengthAdjust="spacingAndGlyphs">leaf</text>
</svg></body></html>
